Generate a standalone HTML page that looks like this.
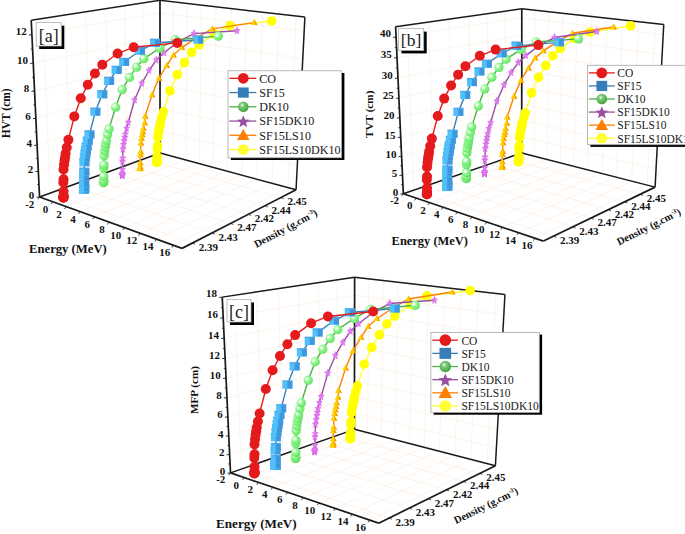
<!DOCTYPE html>
<html><head><meta charset="utf-8"><style>
html,body{margin:0;padding:0;background:#fff;}
svg{display:block;}
.b{font-family:"Liberation Serif",serif;font-weight:bold;fill:#111;}
.s{font-family:"Liberation Serif",serif;}
</style></head><body>
<svg width="685" height="534" viewBox="0 0 685 534">
<defs>
<radialGradient id="gs" cx="0.36" cy="0.36" r="0.72"><stop offset="0" stop-color="#ffffff"/><stop offset="0.18" stop-color="#e0ffe0"/><stop offset="0.42" stop-color="#8cf58c"/><stop offset="0.8" stop-color="#70ea70"/><stop offset="1" stop-color="#50d250"/></radialGradient>
<radialGradient id="gl" cx="0.4" cy="0.35" r="0.7"><stop offset="0" stop-color="#e8f8e8"/><stop offset="0.3" stop-color="#7cc87a"/><stop offset="0.75" stop-color="#4daf4a"/><stop offset="1" stop-color="#3d9a3a"/></radialGradient>
</defs>
<rect width="685" height="534" fill="#fff"/>
<g><line x1="39.55" y1="197.06" x2="160.08" y2="152.95" stroke="#fdf0e6" stroke-width="0.8"/><line x1="160.08" y1="152.95" x2="159.95" y2="0.31" stroke="#fdf0e6" stroke-width="0.8"/><line x1="52.61" y1="201.77" x2="172.82" y2="156.4" stroke="#fdf0e6" stroke-width="0.8"/><line x1="172.82" y1="156.4" x2="173.43" y2="1.87" stroke="#fdf0e6" stroke-width="0.8"/><line x1="66.08" y1="206.62" x2="185.89" y2="159.95" stroke="#fdf0e6" stroke-width="0.8"/><line x1="185.89" y1="159.95" x2="187.29" y2="3.48" stroke="#fdf0e6" stroke-width="0.8"/><line x1="79.97" y1="211.62" x2="199.31" y2="163.58" stroke="#fdf0e6" stroke-width="0.8"/><line x1="199.31" y1="163.58" x2="201.53" y2="5.12" stroke="#fdf0e6" stroke-width="0.8"/><line x1="94.3" y1="216.78" x2="213.09" y2="167.32" stroke="#fdf0e6" stroke-width="0.8"/><line x1="213.09" y1="167.32" x2="216.18" y2="6.82" stroke="#fdf0e6" stroke-width="0.8"/><line x1="109.09" y1="222.11" x2="227.25" y2="171.15" stroke="#fdf0e6" stroke-width="0.8"/><line x1="227.25" y1="171.15" x2="231.26" y2="8.56" stroke="#fdf0e6" stroke-width="0.8"/><line x1="124.37" y1="227.61" x2="241.8" y2="175.1" stroke="#fdf0e6" stroke-width="0.8"/><line x1="241.8" y1="175.1" x2="246.78" y2="10.36" stroke="#fdf0e6" stroke-width="0.8"/><line x1="140.16" y1="233.29" x2="256.76" y2="179.15" stroke="#fdf0e6" stroke-width="0.8"/><line x1="256.76" y1="179.15" x2="262.77" y2="12.21" stroke="#fdf0e6" stroke-width="0.8"/><line x1="156.49" y1="239.17" x2="272.14" y2="183.32" stroke="#fdf0e6" stroke-width="0.8"/><line x1="272.14" y1="183.32" x2="279.24" y2="14.12" stroke="#fdf0e6" stroke-width="0.8"/><line x1="173.37" y1="245.25" x2="287.97" y2="187.61" stroke="#fdf0e6" stroke-width="0.8"/><line x1="287.97" y1="187.61" x2="296.22" y2="16.08" stroke="#fdf0e6" stroke-width="0.8"/><line x1="50.23" y1="193.15" x2="192.36" y2="243.07" stroke="#fdf0e6" stroke-width="0.8"/><line x1="50.23" y1="193.15" x2="42.73" y2="18.45" stroke="#fdf0e6" stroke-width="0.8"/><line x1="70.8" y1="185.62" x2="212.11" y2="232.92" stroke="#fdf0e6" stroke-width="0.8"/><line x1="70.8" y1="185.62" x2="64.84" y2="15.03" stroke="#fdf0e6" stroke-width="0.8"/><line x1="90.38" y1="178.46" x2="230.77" y2="223.34" stroke="#fdf0e6" stroke-width="0.8"/><line x1="90.38" y1="178.46" x2="85.81" y2="11.78" stroke="#fdf0e6" stroke-width="0.8"/><line x1="109.03" y1="171.63" x2="248.42" y2="214.28" stroke="#fdf0e6" stroke-width="0.8"/><line x1="109.03" y1="171.63" x2="105.74" y2="8.7" stroke="#fdf0e6" stroke-width="0.8"/><line x1="126.83" y1="165.12" x2="265.14" y2="205.69" stroke="#fdf0e6" stroke-width="0.8"/><line x1="126.83" y1="165.12" x2="124.69" y2="5.77" stroke="#fdf0e6" stroke-width="0.8"/><line x1="143.83" y1="158.9" x2="281" y2="197.54" stroke="#fdf0e6" stroke-width="0.8"/><line x1="143.83" y1="158.9" x2="142.74" y2="2.98" stroke="#fdf0e6" stroke-width="0.8"/><line x1="39.55" y1="197.06" x2="160.08" y2="152.95" stroke="#fdf0e6" stroke-width="0.8"/><line x1="160.08" y1="152.95" x2="296.06" y2="189.81" stroke="#fdf0e6" stroke-width="0.8"/><line x1="38.33" y1="171.33" x2="160.06" y2="130.56" stroke="#fdf0e6" stroke-width="0.8"/><line x1="160.06" y1="130.56" x2="297.35" y2="164.64" stroke="#fdf0e6" stroke-width="0.8"/><line x1="37.1" y1="145.09" x2="160.04" y2="107.79" stroke="#fdf0e6" stroke-width="0.8"/><line x1="160.04" y1="107.79" x2="298.66" y2="138.99" stroke="#fdf0e6" stroke-width="0.8"/><line x1="35.84" y1="118.32" x2="160.02" y2="84.62" stroke="#fdf0e6" stroke-width="0.8"/><line x1="160.02" y1="84.62" x2="300" y2="112.83" stroke="#fdf0e6" stroke-width="0.8"/><line x1="34.55" y1="91.01" x2="160" y2="61.06" stroke="#fdf0e6" stroke-width="0.8"/><line x1="160" y1="61.06" x2="301.37" y2="86.15" stroke="#fdf0e6" stroke-width="0.8"/><line x1="33.24" y1="63.13" x2="159.98" y2="37.08" stroke="#fdf0e6" stroke-width="0.8"/><line x1="159.98" y1="37.08" x2="302.76" y2="58.94" stroke="#fdf0e6" stroke-width="0.8"/><line x1="31.9" y1="34.68" x2="159.96" y2="12.68" stroke="#fdf0e6" stroke-width="0.8"/><line x1="159.96" y1="12.68" x2="304.18" y2="31.18" stroke="#fdf0e6" stroke-width="0.8"/></g>
<line x1="160.08" y1="152.95" x2="159.95" y2="0.31" stroke="#1a1a1a" stroke-width="1.7"/><line x1="39.55" y1="197.06" x2="160.08" y2="152.95" stroke="#1a1a1a" stroke-width="1.5"/><line x1="160.08" y1="152.95" x2="296.06" y2="189.81" stroke="#1a1a1a" stroke-width="1.5"/><line x1="31.22" y1="20.23" x2="159.95" y2="0.31" stroke="#1a1a1a" stroke-width="1.5"/><line x1="159.95" y1="0.31" x2="304.9" y2="17.09" stroke="#1a1a1a" stroke-width="1.5"/><line x1="296.06" y1="189.81" x2="304.9" y2="17.09" stroke="#1a1a1a" stroke-width="1.5"/><line x1="39.55" y1="197.06" x2="182.04" y2="248.37" stroke="#1a1a1a" stroke-width="1.7"/><line x1="182.04" y1="248.37" x2="296.06" y2="189.81" stroke="#1a1a1a" stroke-width="1.7"/><line x1="39.55" y1="197.06" x2="31.22" y2="20.23" stroke="#1a1a1a" stroke-width="1.7"/>
<line x1="39.55" y1="197.06" x2="36.55" y2="197.36" stroke="#1a1a1a" stroke-width="0.9"/><line x1="38.33" y1="171.33" x2="35.33" y2="171.63" stroke="#1a1a1a" stroke-width="0.9"/><line x1="37.1" y1="145.09" x2="34.1" y2="145.39" stroke="#1a1a1a" stroke-width="0.9"/><line x1="35.84" y1="118.32" x2="32.84" y2="118.62" stroke="#1a1a1a" stroke-width="0.9"/><line x1="34.55" y1="91.01" x2="31.55" y2="91.31" stroke="#1a1a1a" stroke-width="0.9"/><line x1="33.24" y1="63.13" x2="30.24" y2="63.43" stroke="#1a1a1a" stroke-width="0.9"/><line x1="31.9" y1="34.68" x2="28.9" y2="34.98" stroke="#1a1a1a" stroke-width="0.9"/><line x1="38.94" y1="184.26" x2="37.14" y2="184.46" stroke="#1a1a1a" stroke-width="0.8"/><line x1="37.72" y1="158.28" x2="35.92" y2="158.48" stroke="#1a1a1a" stroke-width="0.8"/><line x1="36.47" y1="131.77" x2="34.67" y2="131.97" stroke="#1a1a1a" stroke-width="0.8"/><line x1="35.2" y1="104.73" x2="33.4" y2="104.93" stroke="#1a1a1a" stroke-width="0.8"/><line x1="33.9" y1="77.14" x2="32.1" y2="77.34" stroke="#1a1a1a" stroke-width="0.8"/><line x1="32.57" y1="48.98" x2="30.77" y2="49.18" stroke="#1a1a1a" stroke-width="0.8"/><line x1="39.55" y1="197.06" x2="37.95" y2="199.46" stroke="#1a1a1a" stroke-width="0.8"/><line x1="52.61" y1="201.77" x2="51.01" y2="204.17" stroke="#1a1a1a" stroke-width="0.8"/><line x1="66.08" y1="206.62" x2="64.48" y2="209.02" stroke="#1a1a1a" stroke-width="0.8"/><line x1="79.97" y1="211.62" x2="78.37" y2="214.02" stroke="#1a1a1a" stroke-width="0.8"/><line x1="94.3" y1="216.78" x2="92.7" y2="219.18" stroke="#1a1a1a" stroke-width="0.8"/><line x1="109.09" y1="222.11" x2="107.49" y2="224.51" stroke="#1a1a1a" stroke-width="0.8"/><line x1="124.37" y1="227.61" x2="122.77" y2="230.01" stroke="#1a1a1a" stroke-width="0.8"/><line x1="140.16" y1="233.29" x2="138.56" y2="235.69" stroke="#1a1a1a" stroke-width="0.8"/><line x1="156.49" y1="239.17" x2="154.89" y2="241.57" stroke="#1a1a1a" stroke-width="0.8"/><line x1="173.37" y1="245.25" x2="171.77" y2="247.65" stroke="#1a1a1a" stroke-width="0.8"/><line x1="192.36" y1="243.07" x2="194.96" y2="244.27" stroke="#1a1a1a" stroke-width="0.8"/><line x1="212.11" y1="232.92" x2="214.71" y2="234.12" stroke="#1a1a1a" stroke-width="0.8"/><line x1="230.77" y1="223.34" x2="233.37" y2="224.54" stroke="#1a1a1a" stroke-width="0.8"/><line x1="248.42" y1="214.28" x2="251.02" y2="215.48" stroke="#1a1a1a" stroke-width="0.8"/><line x1="265.14" y1="205.69" x2="267.74" y2="206.89" stroke="#1a1a1a" stroke-width="0.8"/><line x1="281" y1="197.54" x2="283.6" y2="198.74" stroke="#1a1a1a" stroke-width="0.8"/>
<path d="M156.74 162.42 L156.77 162.31 L156.84 162.22 L156.9 162.01 L156.96 161.68 L157.03 160.32 L157.15 156.68 L157.27 148.86 L157.59 145.81 L157.9 137.15 L158.55 132.86 L159.21 129.15 L159.86 126.12 L160.53 122.73 L161.85 117.34 L163.5 111.8 L170 90.8 L177.2 74.7 L184.5 62.6 L191.7 52.3 L199.2 44.8 L214.17 33.9 L230 25.6 L271.7 21" fill="none" stroke="#ffff33" stroke-width="1.4"/>
<circle cx="156.74" cy="162.42" r="4.8" fill="#ffff00"/><circle cx="156.77" cy="162.31" r="4.8" fill="#ffff00"/><circle cx="156.84" cy="162.22" r="4.8" fill="#ffff00"/><circle cx="156.9" cy="162.01" r="4.8" fill="#ffff00"/><circle cx="156.96" cy="161.68" r="4.8" fill="#ffff00"/><circle cx="157.03" cy="160.32" r="4.8" fill="#ffff00"/><circle cx="157.15" cy="156.68" r="4.8" fill="#ffff00"/><circle cx="157.27" cy="148.86" r="4.8" fill="#ffff00"/><circle cx="157.59" cy="145.81" r="4.8" fill="#ffff00"/><circle cx="157.9" cy="137.15" r="4.8" fill="#ffff00"/><circle cx="158.55" cy="132.86" r="4.8" fill="#ffff00"/><circle cx="159.21" cy="129.15" r="4.8" fill="#ffff00"/><circle cx="159.86" cy="126.12" r="4.8" fill="#ffff00"/><circle cx="160.53" cy="122.73" r="4.8" fill="#ffff00"/><circle cx="161.85" cy="117.34" r="4.8" fill="#ffff00"/><circle cx="163.5" cy="111.8" r="4.8" fill="#ffff00"/><circle cx="170" cy="90.8" r="4.8" fill="#ffff00"/><circle cx="177.2" cy="74.7" r="4.8" fill="#ffff00"/><circle cx="184.5" cy="62.6" r="4.8" fill="#ffff00"/><circle cx="191.7" cy="52.3" r="4.8" fill="#ffff00"/><circle cx="199.2" cy="44.8" r="4.8" fill="#ffff00"/><circle cx="214.17" cy="33.9" r="4.8" fill="#ffff00"/><circle cx="230" cy="25.6" r="4.8" fill="#ffff00"/><circle cx="271.7" cy="21" r="4.8" fill="#ffff00"/>
<path d="M139.81 168.81 L139.84 168.7 L139.91 168.6 L139.97 168.39 L140.03 168.06 L140.08 166.67 L140.18 162.95 L140.25 154.96 L140.55 151.86 L140.81 143.02 L141.43 138.64 L142.07 134.85 L142.71 131.76 L143.35 128.3 L144.65 122.8 L145.1 116.4 L152 94.8 L158.9 78.4 L166.7 65.5 L173.4 55.1 L181.8 47.6 L196.76 37.69 L212.2 28.9 L254.1 22.6" fill="none" stroke="#ff7f00" stroke-width="1.4"/>
<polygon points="139.81,165.21 143.21,171.21 136.41,171.21" fill="#ffd000"/><polygon points="139.81,165.21 143.21,171.21 141.01,171.21" fill="#f59a00"/><polygon points="139.84,165.1 143.24,171.1 136.44,171.1" fill="#ffd000"/><polygon points="139.84,165.1 143.24,171.1 141.04,171.1" fill="#f59a00"/><polygon points="139.91,165 143.31,171 136.51,171" fill="#ffd000"/><polygon points="139.91,165 143.31,171 141.11,171" fill="#f59a00"/><polygon points="139.97,164.79 143.37,170.79 136.57,170.79" fill="#ffd000"/><polygon points="139.97,164.79 143.37,170.79 141.17,170.79" fill="#f59a00"/><polygon points="140.03,164.46 143.43,170.46 136.63,170.46" fill="#ffd000"/><polygon points="140.03,164.46 143.43,170.46 141.23,170.46" fill="#f59a00"/><polygon points="140.08,163.07 143.48,169.07 136.68,169.07" fill="#ffd000"/><polygon points="140.08,163.07 143.48,169.07 141.28,169.07" fill="#f59a00"/><polygon points="140.18,159.35 143.58,165.35 136.78,165.35" fill="#ffd000"/><polygon points="140.18,159.35 143.58,165.35 141.38,165.35" fill="#f59a00"/><polygon points="140.25,151.36 143.65,157.36 136.85,157.36" fill="#ffd000"/><polygon points="140.25,151.36 143.65,157.36 141.45,157.36" fill="#f59a00"/><polygon points="140.55,148.26 143.95,154.26 137.15,154.26" fill="#ffd000"/><polygon points="140.55,148.26 143.95,154.26 141.75,154.26" fill="#f59a00"/><polygon points="140.81,139.42 144.21,145.42 137.41,145.42" fill="#ffd000"/><polygon points="140.81,139.42 144.21,145.42 142.01,145.42" fill="#f59a00"/><polygon points="141.43,135.04 144.83,141.04 138.03,141.04" fill="#ffd000"/><polygon points="141.43,135.04 144.83,141.04 142.63,141.04" fill="#f59a00"/><polygon points="142.07,131.25 145.47,137.25 138.67,137.25" fill="#ffd000"/><polygon points="142.07,131.25 145.47,137.25 143.27,137.25" fill="#f59a00"/><polygon points="142.71,128.16 146.11,134.16 139.31,134.16" fill="#ffd000"/><polygon points="142.71,128.16 146.11,134.16 143.91,134.16" fill="#f59a00"/><polygon points="143.35,124.7 146.75,130.7 139.95,130.7" fill="#ffd000"/><polygon points="143.35,124.7 146.75,130.7 144.55,130.7" fill="#f59a00"/><polygon points="144.65,119.2 148.05,125.2 141.25,125.2" fill="#ffd000"/><polygon points="144.65,119.2 148.05,125.2 145.85,125.2" fill="#f59a00"/><polygon points="145.1,112.8 148.5,118.8 141.7,118.8" fill="#ffd000"/><polygon points="145.1,112.8 148.5,118.8 146.3,118.8" fill="#f59a00"/><polygon points="152,91.2 155.4,97.2 148.6,97.2" fill="#ffd000"/><polygon points="152,91.2 155.4,97.2 153.2,97.2" fill="#f59a00"/><polygon points="158.9,74.8 162.3,80.8 155.5,80.8" fill="#ffd000"/><polygon points="158.9,74.8 162.3,80.8 160.1,80.8" fill="#f59a00"/><polygon points="166.7,61.9 170.1,67.9 163.3,67.9" fill="#ffd000"/><polygon points="166.7,61.9 170.1,67.9 167.9,67.9" fill="#f59a00"/><polygon points="173.4,51.5 176.8,57.5 170,57.5" fill="#ffd000"/><polygon points="173.4,51.5 176.8,57.5 174.6,57.5" fill="#f59a00"/><polygon points="181.8,44 185.2,50 178.4,50" fill="#ffd000"/><polygon points="181.8,44 185.2,50 183,50" fill="#f59a00"/><polygon points="196.76,34.09 200.16,40.09 193.36,40.09" fill="#ffd000"/><polygon points="196.76,34.09 200.16,40.09 197.96,40.09" fill="#f59a00"/><polygon points="212.2,25.3 215.6,31.3 208.8,31.3" fill="#ffd000"/><polygon points="212.2,25.3 215.6,31.3 213.4,31.3" fill="#f59a00"/><polygon points="254.1,19 257.5,25 250.7,25" fill="#ffd000"/><polygon points="254.1,19 257.5,25 255.3,25" fill="#f59a00"/>
<path d="M122.07 175.5 L122.1 175.39 L122.17 175.29 L122.23 175.07 L122.29 174.73 L122.33 173.32 L122.4 169.52 L122.41 161.37 L122.69 158.19 L122.89 149.16 L123.49 144.7 L124.1 140.82 L124.72 137.68 L125.34 134.14 L126.6 128.53 L128.3 122.5 L134.6 100 L141.8 83.3 L149 70.5 L156.3 60 L164 52.8 L178.42 41.68 L194 33.6 L237 30.8" fill="none" stroke="#984ea3" stroke-width="1.4"/>
<polygon points="122.07,171.5 122.92,174.03 125.11,174.26 123.45,176.06 123.95,178.74 122.07,177.31 120.19,178.74 120.69,176.06 119.03,174.26 121.22,174.03" fill="#e27cf2" stroke="#d060e0" stroke-width="0.5"/><polygon points="122.1,171.39 122.95,173.92 125.14,174.16 123.48,175.95 123.98,178.63 122.1,177.2 120.22,178.63 120.72,175.95 119.06,174.16 121.25,173.92" fill="#e27cf2" stroke="#d060e0" stroke-width="0.5"/><polygon points="122.17,171.29 123.02,173.83 125.21,174.06 123.54,175.85 124.05,178.53 122.17,177.1 120.28,178.53 120.79,175.85 119.12,174.06 121.31,173.83" fill="#e27cf2" stroke="#d060e0" stroke-width="0.5"/><polygon points="122.23,171.07 123.08,173.61 125.27,173.84 123.61,175.63 124.11,178.31 122.23,176.89 120.35,178.31 120.85,175.63 119.18,173.84 121.37,173.61" fill="#e27cf2" stroke="#d060e0" stroke-width="0.5"/><polygon points="122.29,170.73 123.14,173.27 125.33,173.5 123.67,175.29 124.17,177.97 122.29,176.55 120.41,177.97 120.91,175.29 119.24,173.5 121.44,173.27" fill="#e27cf2" stroke="#d060e0" stroke-width="0.5"/><polygon points="122.33,169.32 123.18,171.85 125.37,172.08 123.71,173.88 124.21,176.55 122.33,175.13 120.45,176.55 120.95,173.88 119.29,172.08 121.48,171.85" fill="#e27cf2" stroke="#d060e0" stroke-width="0.5"/><polygon points="122.4,165.52 123.26,168.05 125.45,168.28 123.78,170.08 124.29,172.76 122.4,171.33 120.52,172.76 121.03,170.08 119.36,168.28 121.55,168.05" fill="#e27cf2" stroke="#d060e0" stroke-width="0.5"/><polygon points="122.41,157.37 123.26,159.9 125.46,160.13 123.79,161.93 124.29,164.6 122.41,163.18 120.53,164.6 121.03,161.93 119.37,160.13 121.56,159.9" fill="#e27cf2" stroke="#d060e0" stroke-width="0.5"/><polygon points="122.69,154.19 123.55,156.73 125.74,156.96 124.07,158.75 124.57,161.43 122.69,160.01 120.81,161.43 121.31,158.75 119.65,156.96 121.84,156.73" fill="#e27cf2" stroke="#d060e0" stroke-width="0.5"/><polygon points="122.89,145.16 123.74,147.7 125.93,147.93 124.27,149.72 124.77,152.4 122.89,150.98 121.01,152.4 121.51,149.72 119.85,147.93 122.04,147.7" fill="#e27cf2" stroke="#d060e0" stroke-width="0.5"/><polygon points="123.49,140.7 124.34,143.23 126.53,143.46 124.87,145.26 125.37,147.93 123.49,146.51 121.61,147.93 122.11,145.26 120.44,143.46 122.63,143.23" fill="#e27cf2" stroke="#d060e0" stroke-width="0.5"/><polygon points="124.1,136.82 124.95,139.36 127.14,139.59 125.47,141.38 125.98,144.06 124.1,142.64 122.21,144.06 122.72,141.38 121.05,139.59 123.24,139.36" fill="#e27cf2" stroke="#d060e0" stroke-width="0.5"/><polygon points="124.72,133.68 125.57,136.21 127.76,136.44 126.1,138.24 126.6,140.91 124.72,139.49 122.84,140.91 123.34,138.24 121.67,136.44 123.86,136.21" fill="#e27cf2" stroke="#d060e0" stroke-width="0.5"/><polygon points="125.34,130.14 126.19,132.68 128.38,132.91 126.71,134.7 127.22,137.38 125.34,135.96 123.45,137.38 123.96,134.7 122.29,132.91 124.48,132.68" fill="#e27cf2" stroke="#d060e0" stroke-width="0.5"/><polygon points="126.6,124.53 127.45,127.06 129.65,127.29 127.98,129.09 128.48,131.76 126.6,130.34 124.72,131.76 125.22,129.09 123.56,127.29 125.75,127.06" fill="#e27cf2" stroke="#d060e0" stroke-width="0.5"/><polygon points="128.3,118.5 129.15,121.03 131.34,121.26 129.68,123.06 130.18,125.74 128.3,124.31 126.42,125.74 126.92,123.06 125.26,121.26 127.45,121.03" fill="#e27cf2" stroke="#d060e0" stroke-width="0.5"/><polygon points="134.6,96 135.45,98.53 137.64,98.76 135.98,100.56 136.48,103.24 134.6,101.81 132.72,103.24 133.22,100.56 131.56,98.76 133.75,98.53" fill="#e27cf2" stroke="#d060e0" stroke-width="0.5"/><polygon points="141.8,79.3 142.65,81.83 144.84,82.06 143.18,83.86 143.68,86.54 141.8,85.11 139.92,86.54 140.42,83.86 138.76,82.06 140.95,81.83" fill="#e27cf2" stroke="#d060e0" stroke-width="0.5"/><polygon points="149,66.5 149.85,69.03 152.04,69.26 150.38,71.06 150.88,73.74 149,72.31 147.12,73.74 147.62,71.06 145.96,69.26 148.15,69.03" fill="#e27cf2" stroke="#d060e0" stroke-width="0.5"/><polygon points="156.3,56 157.15,58.53 159.34,58.76 157.68,60.56 158.18,63.24 156.3,61.81 154.42,63.24 154.92,60.56 153.26,58.76 155.45,58.53" fill="#e27cf2" stroke="#d060e0" stroke-width="0.5"/><polygon points="164,48.8 164.85,51.33 167.04,51.56 165.38,53.36 165.88,56.04 164,54.61 162.12,56.04 162.62,53.36 160.96,51.56 163.15,51.33" fill="#e27cf2" stroke="#d060e0" stroke-width="0.5"/><polygon points="178.42,37.68 179.27,40.21 181.47,40.44 179.8,42.24 180.3,44.92 178.42,43.49 176.54,44.92 177.04,42.24 175.38,40.44 177.57,40.21" fill="#e27cf2" stroke="#d060e0" stroke-width="0.5"/><polygon points="194,29.6 194.85,32.13 197.04,32.36 195.38,34.16 195.88,36.84 194,35.41 192.12,36.84 192.62,34.16 190.96,32.36 193.15,32.13" fill="#e27cf2" stroke="#d060e0" stroke-width="0.5"/><polygon points="237,26.8 237.85,29.33 240.04,29.56 238.38,31.36 238.88,34.04 237,32.61 235.12,34.04 235.62,31.36 233.96,29.56 236.15,29.33" fill="#e27cf2" stroke="#d060e0" stroke-width="0.5"/>
<path d="M103.46 182.52 L103.49 182.41 L103.56 182.31 L103.62 182.09 L103.68 181.74 L103.71 180.29 L103.75 176.41 L103.7 168.08 L103.96 164.84 L104.08 155.61 L104.65 151.05 L105.23 147.1 L105.83 143.88 L106.42 140.28 L107.65 134.54 L109 128.9 L115.6 107.2 L122.2 89.5 L129.4 77.4 L136.6 67.2 L143.8 58.7 L159.8 48.1 L175.1 39.7 L218.3 36.1" fill="none" stroke="#4daf4a" stroke-width="1.4"/>
<circle cx="103.46" cy="182.52" r="4.65" fill="url(#gs)"/><circle cx="103.49" cy="182.41" r="4.65" fill="url(#gs)"/><circle cx="103.56" cy="182.31" r="4.65" fill="url(#gs)"/><circle cx="103.62" cy="182.09" r="4.65" fill="url(#gs)"/><circle cx="103.68" cy="181.74" r="4.65" fill="url(#gs)"/><circle cx="103.71" cy="180.29" r="4.65" fill="url(#gs)"/><circle cx="103.75" cy="176.41" r="4.65" fill="url(#gs)"/><circle cx="103.7" cy="168.08" r="4.65" fill="url(#gs)"/><circle cx="103.96" cy="164.84" r="4.65" fill="url(#gs)"/><circle cx="104.08" cy="155.61" r="4.65" fill="url(#gs)"/><circle cx="104.65" cy="151.05" r="4.65" fill="url(#gs)"/><circle cx="105.23" cy="147.1" r="4.65" fill="url(#gs)"/><circle cx="105.83" cy="143.88" r="4.65" fill="url(#gs)"/><circle cx="106.42" cy="140.28" r="4.65" fill="url(#gs)"/><circle cx="107.65" cy="134.54" r="4.65" fill="url(#gs)"/><circle cx="109" cy="128.9" r="4.65" fill="url(#gs)"/><circle cx="115.6" cy="107.2" r="4.65" fill="url(#gs)"/><circle cx="122.2" cy="89.5" r="4.65" fill="url(#gs)"/><circle cx="129.4" cy="77.4" r="4.65" fill="url(#gs)"/><circle cx="136.6" cy="67.2" r="4.65" fill="url(#gs)"/><circle cx="143.8" cy="58.7" r="4.65" fill="url(#gs)"/><circle cx="159.8" cy="48.1" r="4.65" fill="url(#gs)"/><circle cx="175.1" cy="39.7" r="4.65" fill="url(#gs)"/><circle cx="218.3" cy="36.1" r="4.65" fill="url(#gs)"/>
<path d="M83.92 189.89 L83.95 189.78 L84.02 189.68 L84.07 189.45 L84.13 189.1 L84.15 187.62 L84.16 183.65 L84.04 175.14 L84.27 171.83 L84.33 162.39 L84.85 157.73 L85.4 153.69 L85.98 150.41 L86.54 146.72 L87.72 140.87 L89.4 134.6 L95.3 111.8 L102.2 94.4 L109.1 81 L116.6 70 L124.1 62 L139.9 50.8 L155 43 L198.2 39.7" fill="none" stroke="#377eb8" stroke-width="1.4"/>
<path d="M78.92 186.19h10v7.7h-10z" fill="#4fc0fa"/><path d="M83.92 186.09h5v7.6h-5z" fill="#3e96dd"/><path d="M78.92 185.59h10v1.3h-10z" fill="#4aa6e6"/><path d="M78.95 186.08h10v7.7h-10z" fill="#4fc0fa"/><path d="M83.95 185.98h5v7.6h-5z" fill="#3e96dd"/><path d="M78.95 185.48h10v1.3h-10z" fill="#4aa6e6"/><path d="M79.02 185.98h10v7.7h-10z" fill="#4fc0fa"/><path d="M84.02 185.88h5v7.6h-5z" fill="#3e96dd"/><path d="M79.02 185.38h10v1.3h-10z" fill="#4aa6e6"/><path d="M79.07 185.75h10v7.7h-10z" fill="#4fc0fa"/><path d="M84.07 185.65h5v7.6h-5z" fill="#3e96dd"/><path d="M79.07 185.15h10v1.3h-10z" fill="#4aa6e6"/><path d="M79.13 185.4h10v7.7h-10z" fill="#4fc0fa"/><path d="M84.13 185.3h5v7.6h-5z" fill="#3e96dd"/><path d="M79.13 184.8h10v1.3h-10z" fill="#4aa6e6"/><path d="M79.15 183.92h10v7.7h-10z" fill="#4fc0fa"/><path d="M84.15 183.82h5v7.6h-5z" fill="#3e96dd"/><path d="M79.15 183.32h10v1.3h-10z" fill="#4aa6e6"/><path d="M79.16 179.95h10v7.7h-10z" fill="#4fc0fa"/><path d="M84.16 179.85h5v7.6h-5z" fill="#3e96dd"/><path d="M79.16 179.35h10v1.3h-10z" fill="#4aa6e6"/><path d="M79.04 171.44h10v7.7h-10z" fill="#4fc0fa"/><path d="M84.04 171.34h5v7.6h-5z" fill="#3e96dd"/><path d="M79.04 170.84h10v1.3h-10z" fill="#4aa6e6"/><path d="M79.27 168.13h10v7.7h-10z" fill="#4fc0fa"/><path d="M84.27 168.03h5v7.6h-5z" fill="#3e96dd"/><path d="M79.27 167.53h10v1.3h-10z" fill="#4aa6e6"/><path d="M79.33 158.69h10v7.7h-10z" fill="#4fc0fa"/><path d="M84.33 158.59h5v7.6h-5z" fill="#3e96dd"/><path d="M79.33 158.09h10v1.3h-10z" fill="#4aa6e6"/><path d="M79.85 154.03h10v7.7h-10z" fill="#4fc0fa"/><path d="M84.85 153.93h5v7.6h-5z" fill="#3e96dd"/><path d="M79.85 153.43h10v1.3h-10z" fill="#4aa6e6"/><path d="M80.4 149.99h10v7.7h-10z" fill="#4fc0fa"/><path d="M85.4 149.89h5v7.6h-5z" fill="#3e96dd"/><path d="M80.4 149.39h10v1.3h-10z" fill="#4aa6e6"/><path d="M80.98 146.71h10v7.7h-10z" fill="#4fc0fa"/><path d="M85.98 146.61h5v7.6h-5z" fill="#3e96dd"/><path d="M80.98 146.11h10v1.3h-10z" fill="#4aa6e6"/><path d="M81.54 143.02h10v7.7h-10z" fill="#4fc0fa"/><path d="M86.54 142.92h5v7.6h-5z" fill="#3e96dd"/><path d="M81.54 142.42h10v1.3h-10z" fill="#4aa6e6"/><path d="M82.72 137.17h10v7.7h-10z" fill="#4fc0fa"/><path d="M87.72 137.07h5v7.6h-5z" fill="#3e96dd"/><path d="M82.72 136.57h10v1.3h-10z" fill="#4aa6e6"/><path d="M84.4 130.9h10v7.7h-10z" fill="#4fc0fa"/><path d="M89.4 130.8h5v7.6h-5z" fill="#3e96dd"/><path d="M84.4 130.3h10v1.3h-10z" fill="#4aa6e6"/><path d="M90.3 108.1h10v7.7h-10z" fill="#4fc0fa"/><path d="M95.3 108h5v7.6h-5z" fill="#3e96dd"/><path d="M90.3 107.5h10v1.3h-10z" fill="#4aa6e6"/><path d="M97.2 90.7h10v7.7h-10z" fill="#4fc0fa"/><path d="M102.2 90.6h5v7.6h-5z" fill="#3e96dd"/><path d="M97.2 90.1h10v1.3h-10z" fill="#4aa6e6"/><path d="M104.1 77.3h10v7.7h-10z" fill="#4fc0fa"/><path d="M109.1 77.2h5v7.6h-5z" fill="#3e96dd"/><path d="M104.1 76.7h10v1.3h-10z" fill="#4aa6e6"/><path d="M111.6 66.3h10v7.7h-10z" fill="#4fc0fa"/><path d="M116.6 66.2h5v7.6h-5z" fill="#3e96dd"/><path d="M111.6 65.7h10v1.3h-10z" fill="#4aa6e6"/><path d="M119.1 58.3h10v7.7h-10z" fill="#4fc0fa"/><path d="M124.1 58.2h5v7.6h-5z" fill="#3e96dd"/><path d="M119.1 57.7h10v1.3h-10z" fill="#4aa6e6"/><path d="M134.9 47.1h10v7.7h-10z" fill="#4fc0fa"/><path d="M139.9 47h5v7.6h-5z" fill="#3e96dd"/><path d="M134.9 46.5h10v1.3h-10z" fill="#4aa6e6"/><path d="M150 39.3h10v7.7h-10z" fill="#4fc0fa"/><path d="M155 39.2h5v7.6h-5z" fill="#3e96dd"/><path d="M150 38.7h10v1.3h-10z" fill="#4aa6e6"/><path d="M193.2 36h10v7.7h-10z" fill="#4fc0fa"/><path d="M198.2 35.9h5v7.6h-5z" fill="#3e96dd"/><path d="M193.2 35.4h10v1.3h-10z" fill="#4aa6e6"/>
<path d="M63.38 197.65 L63.41 197.53 L63.47 197.43 L63.53 197.19 L63.58 196.83 L63.59 195.32 L63.56 191.27 L63.37 182.56 L63.57 179.17 L63.54 169.52 L64.02 164.76 L64.54 160.63 L65.08 157.28 L65.61 153.51 L66.75 147.53 L68.4 139.8 L74.3 116.4 L80.8 98.3 L87.8 84.7 L94.9 73.5 L102.3 64.8 L117.6 53.5 L133.7 47.2 L177.2 42.9" fill="none" stroke="#e41a1c" stroke-width="1.4"/>
<circle cx="63.38" cy="197.65" r="5" fill="#e41a1c"/><circle cx="63.41" cy="197.53" r="5" fill="#e41a1c"/><circle cx="63.47" cy="197.43" r="5" fill="#e41a1c"/><circle cx="63.53" cy="197.19" r="5" fill="#e41a1c"/><circle cx="63.58" cy="196.83" r="5" fill="#e41a1c"/><circle cx="63.59" cy="195.32" r="5" fill="#e41a1c"/><circle cx="63.56" cy="191.27" r="5" fill="#e41a1c"/><circle cx="63.37" cy="182.56" r="5" fill="#e41a1c"/><circle cx="63.57" cy="179.17" r="5" fill="#e41a1c"/><circle cx="63.54" cy="169.52" r="5" fill="#e41a1c"/><circle cx="64.02" cy="164.76" r="5" fill="#e41a1c"/><circle cx="64.54" cy="160.63" r="5" fill="#e41a1c"/><circle cx="65.08" cy="157.28" r="5" fill="#e41a1c"/><circle cx="65.61" cy="153.51" r="5" fill="#e41a1c"/><circle cx="66.75" cy="147.53" r="5" fill="#e41a1c"/><circle cx="68.4" cy="139.8" r="5" fill="#e41a1c"/><circle cx="74.3" cy="116.4" r="5" fill="#e41a1c"/><circle cx="80.8" cy="98.3" r="5" fill="#e41a1c"/><circle cx="87.8" cy="84.7" r="5" fill="#e41a1c"/><circle cx="94.9" cy="73.5" r="5" fill="#e41a1c"/><circle cx="102.3" cy="64.8" r="5" fill="#e41a1c"/><circle cx="117.6" cy="53.5" r="5" fill="#e41a1c"/><circle cx="133.7" cy="47.2" r="5" fill="#e41a1c"/><circle cx="177.2" cy="42.9" r="5" fill="#e41a1c"/>
<text x="34.35" y="199.26" text-anchor="end" class="b" font-size="11">0</text><text x="33.13" y="173.19" text-anchor="end" class="b" font-size="11">2</text><text x="31.9" y="146.62" text-anchor="end" class="b" font-size="11">4</text><text x="30.64" y="119.51" text-anchor="end" class="b" font-size="11">6</text><text x="29.35" y="91.85" text-anchor="end" class="b" font-size="11">8</text><text x="28.04" y="63.64" text-anchor="end" class="b" font-size="11">10</text><text x="26.7" y="34.85" text-anchor="end" class="b" font-size="11">12</text><text x="34.35" y="207.56" text-anchor="end" class="b" font-size="11">-2</text><text x="45.61" y="212.87" text-anchor="middle" class="b" font-size="11">0</text><text x="59.08" y="217.72" text-anchor="middle" class="b" font-size="11">2</text><text x="72.97" y="222.72" text-anchor="middle" class="b" font-size="11">4</text><text x="87.3" y="227.88" text-anchor="middle" class="b" font-size="11">6</text><text x="102.09" y="233.21" text-anchor="middle" class="b" font-size="11">8</text><text x="115.87" y="238.71" text-anchor="middle" class="b" font-size="11">10</text><text x="131.66" y="244.39" text-anchor="middle" class="b" font-size="11">12</text><text x="147.99" y="250.27" text-anchor="middle" class="b" font-size="11">14</text><text x="164.87" y="256.35" text-anchor="middle" class="b" font-size="11">16</text><text x="208.36" y="250.97" text-anchor="middle" class="b" font-size="11">2.39</text><text x="228.11" y="240.82" text-anchor="middle" class="b" font-size="11">2.43</text><text x="246.77" y="231.24" text-anchor="middle" class="b" font-size="11">2.47</text><text x="264.42" y="222.18" text-anchor="middle" class="b" font-size="11">2.42</text><text x="281.14" y="213.59" text-anchor="middle" class="b" font-size="11">2.44</text><text x="297" y="205.44" text-anchor="middle" class="b" font-size="11">2.45</text>
<text x="10.2" y="113.3" text-anchor="middle" class="b" font-size="11.5" transform="rotate(-90 10.2 113.3)">HVT (cm)</text>
<text x="29" y="253.1" class="b" font-size="12.6" textLength="77.8" lengthAdjust="spacingAndGlyphs">Energy (MeV)</text>
<text x="256.4" y="247.9" class="b" font-size="10.5" transform="rotate(-28 256.4 247.9)">Density (g.cm<tspan font-size="6.3" dy="-4">-3</tspan><tspan dy="4">)</tspan></text>
<rect x="39.2" y="25.6" width="25.1" height="23.4" fill="#000"/>
<rect x="36.2" y="22.6" width="25.1" height="23.4" fill="#fff" stroke="#b0b0b0" stroke-width="0.8"/>
<text x="48.75" y="41.6" text-anchor="middle" class="s" font-size="18" fill="#222">[a]</text>
<rect x="230.8" y="73" width="113.6" height="87" fill="#000"/>
<rect x="228" y="70.8" width="113.6" height="87" fill="#fff" stroke="#a8a8a8" stroke-width="0.8"/>
<line x1="229.3" y1="78.3" x2="256.3" y2="78.3" stroke="#e41a1c" stroke-width="1.3"/>
<circle cx="243.3" cy="78.3" r="5.4" fill="#e41a1c"/>
<text x="259.2" y="82.6" class="s" font-size="12.1" fill="#1a1a1a">CO</text>
<line x1="229.3" y1="92.55" x2="256.3" y2="92.55" stroke="#377eb8" stroke-width="1.3"/>
<rect x="237.9" y="87.45" width="10.8" height="10.2" fill="#377eb8"/>
<text x="259.2" y="96.85" class="s" font-size="12.1" fill="#1a1a1a">SF15</text>
<line x1="229.3" y1="106.8" x2="256.3" y2="106.8" stroke="#4daf4a" stroke-width="1.3"/>
<circle cx="243.3" cy="106.8" r="5.3" fill="url(#gl)"/>
<text x="259.2" y="111.1" class="s" font-size="12.1" fill="#1a1a1a">DK10</text>
<line x1="229.3" y1="121.05" x2="256.3" y2="121.05" stroke="#984ea3" stroke-width="1.3"/>
<polygon points="243.3,115.25 245,119.5 249.58,119.81 246.06,122.75 247.18,127.19 243.3,124.75 239.42,127.19 240.54,122.75 237.02,119.81 241.6,119.5" fill="#984ea3"/>
<text x="259.2" y="125.35" class="s" font-size="12.1" fill="#1a1a1a">SF15DK10</text>
<line x1="229.3" y1="135.3" x2="256.3" y2="135.3" stroke="#ff7f00" stroke-width="1.3"/>
<polygon points="243.3,128.9 249.6,140.1 237,140.1" fill="#ff7f00"/>
<text x="259.2" y="139.6" class="s" font-size="12.1" fill="#1a1a1a">SF15LS10</text>
<line x1="229.3" y1="149.55" x2="256.3" y2="149.55" stroke="#ffff33" stroke-width="1.3"/>
<circle cx="243.3" cy="149.55" r="5.4" fill="#ffff33"/>
<text x="259.2" y="153.85" class="s" font-size="12.1" fill="#1a1a1a">SF15LS10DK10</text>
<g><line x1="403.34" y1="193.71" x2="521.72" y2="152.91" stroke="#fdf0e6" stroke-width="0.8"/><line x1="521.72" y1="152.91" x2="521.8" y2="8.76" stroke="#fdf0e6" stroke-width="0.8"/><line x1="416.24" y1="198.08" x2="534.25" y2="156.13" stroke="#fdf0e6" stroke-width="0.8"/><line x1="534.25" y1="156.13" x2="535.04" y2="10.23" stroke="#fdf0e6" stroke-width="0.8"/><line x1="429.52" y1="202.57" x2="547.1" y2="159.42" stroke="#fdf0e6" stroke-width="0.8"/><line x1="547.1" y1="159.42" x2="548.64" y2="11.74" stroke="#fdf0e6" stroke-width="0.8"/><line x1="443.21" y1="207.2" x2="560.28" y2="162.8" stroke="#fdf0e6" stroke-width="0.8"/><line x1="560.28" y1="162.8" x2="562.62" y2="13.29" stroke="#fdf0e6" stroke-width="0.8"/><line x1="457.33" y1="211.97" x2="573.81" y2="166.27" stroke="#fdf0e6" stroke-width="0.8"/><line x1="573.81" y1="166.27" x2="576.99" y2="14.88" stroke="#fdf0e6" stroke-width="0.8"/><line x1="471.88" y1="216.89" x2="587.71" y2="169.84" stroke="#fdf0e6" stroke-width="0.8"/><line x1="587.71" y1="169.84" x2="591.76" y2="16.52" stroke="#fdf0e6" stroke-width="0.8"/><line x1="486.91" y1="221.97" x2="601.97" y2="173.5" stroke="#fdf0e6" stroke-width="0.8"/><line x1="601.97" y1="173.5" x2="606.95" y2="18.2" stroke="#fdf0e6" stroke-width="0.8"/><line x1="502.42" y1="227.22" x2="616.63" y2="177.25" stroke="#fdf0e6" stroke-width="0.8"/><line x1="616.63" y1="177.25" x2="622.59" y2="19.94" stroke="#fdf0e6" stroke-width="0.8"/><line x1="518.44" y1="232.63" x2="631.69" y2="181.12" stroke="#fdf0e6" stroke-width="0.8"/><line x1="631.69" y1="181.12" x2="638.69" y2="21.72" stroke="#fdf0e6" stroke-width="0.8"/><line x1="535" y1="238.23" x2="647.18" y2="185.09" stroke="#fdf0e6" stroke-width="0.8"/><line x1="647.18" y1="185.09" x2="655.27" y2="23.56" stroke="#fdf0e6" stroke-width="0.8"/><line x1="413.83" y1="190.1" x2="553.59" y2="236.22" stroke="#fdf0e6" stroke-width="0.8"/><line x1="413.83" y1="190.1" x2="406.88" y2="25.04" stroke="#fdf0e6" stroke-width="0.8"/><line x1="434.03" y1="183.14" x2="572.91" y2="226.87" stroke="#fdf0e6" stroke-width="0.8"/><line x1="434.03" y1="183.14" x2="428.55" y2="21.97" stroke="#fdf0e6" stroke-width="0.8"/><line x1="453.26" y1="176.51" x2="591.17" y2="218.04" stroke="#fdf0e6" stroke-width="0.8"/><line x1="453.26" y1="176.51" x2="449.11" y2="19.06" stroke="#fdf0e6" stroke-width="0.8"/><line x1="471.58" y1="170.19" x2="608.45" y2="209.68" stroke="#fdf0e6" stroke-width="0.8"/><line x1="471.58" y1="170.19" x2="468.64" y2="16.29" stroke="#fdf0e6" stroke-width="0.8"/><line x1="489.07" y1="164.17" x2="624.81" y2="201.77" stroke="#fdf0e6" stroke-width="0.8"/><line x1="489.07" y1="164.17" x2="487.22" y2="13.66" stroke="#fdf0e6" stroke-width="0.8"/><line x1="505.76" y1="158.41" x2="640.34" y2="194.26" stroke="#fdf0e6" stroke-width="0.8"/><line x1="505.76" y1="158.41" x2="504.92" y2="11.15" stroke="#fdf0e6" stroke-width="0.8"/><line x1="403.34" y1="193.71" x2="521.72" y2="152.91" stroke="#fdf0e6" stroke-width="0.8"/><line x1="521.72" y1="152.91" x2="655.09" y2="187.12" stroke="#fdf0e6" stroke-width="0.8"/><line x1="402.48" y1="175.14" x2="521.73" y2="136.75" stroke="#fdf0e6" stroke-width="0.8"/><line x1="521.73" y1="136.75" x2="656.06" y2="169.01" stroke="#fdf0e6" stroke-width="0.8"/><line x1="401.61" y1="156.3" x2="521.74" y2="120.39" stroke="#fdf0e6" stroke-width="0.8"/><line x1="521.74" y1="120.39" x2="657.03" y2="150.65" stroke="#fdf0e6" stroke-width="0.8"/><line x1="400.72" y1="137.17" x2="521.75" y2="103.82" stroke="#fdf0e6" stroke-width="0.8"/><line x1="521.75" y1="103.82" x2="658.03" y2="132.01" stroke="#fdf0e6" stroke-width="0.8"/><line x1="399.82" y1="117.75" x2="521.76" y2="87.04" stroke="#fdf0e6" stroke-width="0.8"/><line x1="521.76" y1="87.04" x2="659.03" y2="113.11" stroke="#fdf0e6" stroke-width="0.8"/><line x1="398.91" y1="98.04" x2="521.77" y2="70.04" stroke="#fdf0e6" stroke-width="0.8"/><line x1="521.77" y1="70.04" x2="660.05" y2="93.92" stroke="#fdf0e6" stroke-width="0.8"/><line x1="397.98" y1="78.03" x2="521.77" y2="52.81" stroke="#fdf0e6" stroke-width="0.8"/><line x1="521.77" y1="52.81" x2="661.09" y2="74.46" stroke="#fdf0e6" stroke-width="0.8"/><line x1="397.04" y1="57.71" x2="521.78" y2="35.37" stroke="#fdf0e6" stroke-width="0.8"/><line x1="521.78" y1="35.37" x2="662.14" y2="54.7" stroke="#fdf0e6" stroke-width="0.8"/><line x1="396.09" y1="37.08" x2="521.79" y2="17.69" stroke="#fdf0e6" stroke-width="0.8"/><line x1="521.79" y1="17.69" x2="663.21" y2="34.64" stroke="#fdf0e6" stroke-width="0.8"/></g>
<line x1="521.72" y1="152.91" x2="521.8" y2="8.76" stroke="#1a1a1a" stroke-width="1.7"/><line x1="403.34" y1="193.71" x2="521.72" y2="152.91" stroke="#1a1a1a" stroke-width="1.5"/><line x1="521.72" y1="152.91" x2="655.09" y2="187.12" stroke="#1a1a1a" stroke-width="1.5"/><line x1="395.6" y1="26.64" x2="521.8" y2="8.76" stroke="#1a1a1a" stroke-width="1.5"/><line x1="521.8" y1="8.76" x2="663.75" y2="24.5" stroke="#1a1a1a" stroke-width="1.5"/><line x1="655.09" y1="187.12" x2="663.75" y2="24.5" stroke="#1a1a1a" stroke-width="1.5"/><line x1="403.34" y1="193.71" x2="543.49" y2="241.1" stroke="#1a1a1a" stroke-width="1.7"/><line x1="543.49" y1="241.1" x2="655.09" y2="187.12" stroke="#1a1a1a" stroke-width="1.7"/><line x1="403.34" y1="193.71" x2="395.6" y2="26.64" stroke="#1a1a1a" stroke-width="1.7"/>
<line x1="403.34" y1="193.71" x2="400.34" y2="194.01" stroke="#1a1a1a" stroke-width="0.9"/><line x1="402.48" y1="175.14" x2="399.48" y2="175.44" stroke="#1a1a1a" stroke-width="0.9"/><line x1="401.61" y1="156.3" x2="398.61" y2="156.6" stroke="#1a1a1a" stroke-width="0.9"/><line x1="400.72" y1="137.17" x2="397.72" y2="137.47" stroke="#1a1a1a" stroke-width="0.9"/><line x1="399.82" y1="117.75" x2="396.82" y2="118.05" stroke="#1a1a1a" stroke-width="0.9"/><line x1="398.91" y1="98.04" x2="395.91" y2="98.34" stroke="#1a1a1a" stroke-width="0.9"/><line x1="397.98" y1="78.03" x2="394.98" y2="78.33" stroke="#1a1a1a" stroke-width="0.9"/><line x1="397.04" y1="57.71" x2="394.04" y2="58.01" stroke="#1a1a1a" stroke-width="0.9"/><line x1="396.09" y1="37.08" x2="393.09" y2="37.38" stroke="#1a1a1a" stroke-width="0.9"/><line x1="402.91" y1="184.46" x2="401.11" y2="184.66" stroke="#1a1a1a" stroke-width="0.8"/><line x1="402.05" y1="165.75" x2="400.25" y2="165.95" stroke="#1a1a1a" stroke-width="0.8"/><line x1="401.17" y1="146.77" x2="399.37" y2="146.97" stroke="#1a1a1a" stroke-width="0.8"/><line x1="400.27" y1="127.5" x2="398.47" y2="127.7" stroke="#1a1a1a" stroke-width="0.8"/><line x1="399.37" y1="107.93" x2="397.57" y2="108.13" stroke="#1a1a1a" stroke-width="0.8"/><line x1="398.45" y1="88.08" x2="396.65" y2="88.28" stroke="#1a1a1a" stroke-width="0.8"/><line x1="397.51" y1="67.91" x2="395.71" y2="68.11" stroke="#1a1a1a" stroke-width="0.8"/><line x1="396.57" y1="47.44" x2="394.77" y2="47.64" stroke="#1a1a1a" stroke-width="0.8"/><line x1="403.34" y1="193.71" x2="401.74" y2="196.11" stroke="#1a1a1a" stroke-width="0.8"/><line x1="416.24" y1="198.08" x2="414.64" y2="200.48" stroke="#1a1a1a" stroke-width="0.8"/><line x1="429.52" y1="202.57" x2="427.92" y2="204.97" stroke="#1a1a1a" stroke-width="0.8"/><line x1="443.21" y1="207.2" x2="441.61" y2="209.6" stroke="#1a1a1a" stroke-width="0.8"/><line x1="457.33" y1="211.97" x2="455.73" y2="214.37" stroke="#1a1a1a" stroke-width="0.8"/><line x1="471.88" y1="216.89" x2="470.28" y2="219.29" stroke="#1a1a1a" stroke-width="0.8"/><line x1="486.91" y1="221.97" x2="485.31" y2="224.37" stroke="#1a1a1a" stroke-width="0.8"/><line x1="502.42" y1="227.22" x2="500.82" y2="229.62" stroke="#1a1a1a" stroke-width="0.8"/><line x1="518.44" y1="232.63" x2="516.84" y2="235.03" stroke="#1a1a1a" stroke-width="0.8"/><line x1="535" y1="238.23" x2="533.4" y2="240.63" stroke="#1a1a1a" stroke-width="0.8"/><line x1="553.59" y1="236.22" x2="556.19" y2="237.42" stroke="#1a1a1a" stroke-width="0.8"/><line x1="572.91" y1="226.87" x2="575.51" y2="228.07" stroke="#1a1a1a" stroke-width="0.8"/><line x1="591.17" y1="218.04" x2="593.77" y2="219.24" stroke="#1a1a1a" stroke-width="0.8"/><line x1="608.45" y1="209.68" x2="611.05" y2="210.88" stroke="#1a1a1a" stroke-width="0.8"/><line x1="624.81" y1="201.77" x2="627.41" y2="202.97" stroke="#1a1a1a" stroke-width="0.8"/><line x1="640.34" y1="194.26" x2="642.94" y2="195.46" stroke="#1a1a1a" stroke-width="0.8"/>
<path d="M518.46 161.69 L518.49 161.58 L518.56 161.49 L518.62 161.29 L518.69 160.97 L518.75 159.67 L518.88 156.17 L519 148.65 L519.32 145.72 L519.64 137.4 L520.29 133.28 L520.94 129.7 L521.59 126.79 L522.24 123.53 L523.56 118.34 L525.18 113.01 L531.6 92.8 L538.7 77.3 L545.89 65.64 L552.98 55.71 L560.35 48.47 L574.36 38.44 L589.89 32.19 L630.72 25.77" fill="none" stroke="#ffff33" stroke-width="1.4"/>
<circle cx="518.46" cy="161.69" r="4.8" fill="#ffff00"/><circle cx="518.49" cy="161.58" r="4.8" fill="#ffff00"/><circle cx="518.56" cy="161.49" r="4.8" fill="#ffff00"/><circle cx="518.62" cy="161.29" r="4.8" fill="#ffff00"/><circle cx="518.69" cy="160.97" r="4.8" fill="#ffff00"/><circle cx="518.75" cy="159.67" r="4.8" fill="#ffff00"/><circle cx="518.88" cy="156.17" r="4.8" fill="#ffff00"/><circle cx="519" cy="148.65" r="4.8" fill="#ffff00"/><circle cx="519.32" cy="145.72" r="4.8" fill="#ffff00"/><circle cx="519.64" cy="137.4" r="4.8" fill="#ffff00"/><circle cx="520.29" cy="133.28" r="4.8" fill="#ffff00"/><circle cx="520.94" cy="129.7" r="4.8" fill="#ffff00"/><circle cx="521.59" cy="126.79" r="4.8" fill="#ffff00"/><circle cx="522.24" cy="123.53" r="4.8" fill="#ffff00"/><circle cx="523.56" cy="118.34" r="4.8" fill="#ffff00"/><circle cx="525.18" cy="113.01" r="4.8" fill="#ffff00"/><circle cx="531.6" cy="92.8" r="4.8" fill="#ffff00"/><circle cx="538.7" cy="77.3" r="4.8" fill="#ffff00"/><circle cx="545.89" cy="65.64" r="4.8" fill="#ffff00"/><circle cx="552.98" cy="55.71" r="4.8" fill="#ffff00"/><circle cx="560.35" cy="48.47" r="4.8" fill="#ffff00"/><circle cx="574.36" cy="38.44" r="4.8" fill="#ffff00"/><circle cx="589.89" cy="32.19" r="4.8" fill="#ffff00"/><circle cx="630.72" cy="25.77" r="4.8" fill="#ffff00"/>
<path d="M501.84 167.59 L501.87 167.49 L501.94 167.4 L502 167.19 L502.06 166.87 L502.11 165.54 L502.22 161.96 L502.29 154.29 L502.59 151.3 L502.86 142.8 L503.48 138.6 L504.11 134.95 L504.75 131.98 L505.38 128.65 L506.67 123.35 L507.12 117.2 L513.94 96.41 L520.75 80.61 L528.44 68.18 L535.04 58.15 L543.3 50.91 L557.3 41.81 L572.46 33.29 L613.5 27.02" fill="none" stroke="#ff7f00" stroke-width="1.4"/>
<polygon points="501.84,163.99 505.24,169.99 498.44,169.99" fill="#ffd000"/><polygon points="501.84,163.99 505.24,169.99 503.04,169.99" fill="#f59a00"/><polygon points="501.87,163.89 505.27,169.89 498.47,169.89" fill="#ffd000"/><polygon points="501.87,163.89 505.27,169.89 503.07,169.89" fill="#f59a00"/><polygon points="501.94,163.8 505.34,169.8 498.54,169.8" fill="#ffd000"/><polygon points="501.94,163.8 505.34,169.8 503.14,169.8" fill="#f59a00"/><polygon points="502,163.59 505.4,169.59 498.6,169.59" fill="#ffd000"/><polygon points="502,163.59 505.4,169.59 503.2,169.59" fill="#f59a00"/><polygon points="502.06,163.27 505.46,169.27 498.66,169.27" fill="#ffd000"/><polygon points="502.06,163.27 505.46,169.27 503.26,169.27" fill="#f59a00"/><polygon points="502.11,161.94 505.51,167.94 498.71,167.94" fill="#ffd000"/><polygon points="502.11,161.94 505.51,167.94 503.31,167.94" fill="#f59a00"/><polygon points="502.22,158.36 505.62,164.36 498.82,164.36" fill="#ffd000"/><polygon points="502.22,158.36 505.62,164.36 503.42,164.36" fill="#f59a00"/><polygon points="502.29,150.69 505.69,156.69 498.89,156.69" fill="#ffd000"/><polygon points="502.29,150.69 505.69,156.69 503.49,156.69" fill="#f59a00"/><polygon points="502.59,147.7 505.99,153.7 499.19,153.7" fill="#ffd000"/><polygon points="502.59,147.7 505.99,153.7 503.79,153.7" fill="#f59a00"/><polygon points="502.86,139.2 506.26,145.2 499.46,145.2" fill="#ffd000"/><polygon points="502.86,139.2 506.26,145.2 504.06,145.2" fill="#f59a00"/><polygon points="503.48,135 506.88,141 500.08,141" fill="#ffd000"/><polygon points="503.48,135 506.88,141 504.68,141" fill="#f59a00"/><polygon points="504.11,131.35 507.51,137.35 500.71,137.35" fill="#ffd000"/><polygon points="504.11,131.35 507.51,137.35 505.31,137.35" fill="#f59a00"/><polygon points="504.75,128.38 508.15,134.38 501.35,134.38" fill="#ffd000"/><polygon points="504.75,128.38 508.15,134.38 505.95,134.38" fill="#f59a00"/><polygon points="505.38,125.05 508.78,131.05 501.98,131.05" fill="#ffd000"/><polygon points="505.38,125.05 508.78,131.05 506.58,131.05" fill="#f59a00"/><polygon points="506.67,119.75 510.07,125.75 503.27,125.75" fill="#ffd000"/><polygon points="506.67,119.75 510.07,125.75 507.87,125.75" fill="#f59a00"/><polygon points="507.12,113.6 510.52,119.6 503.72,119.6" fill="#ffd000"/><polygon points="507.12,113.6 510.52,119.6 508.32,119.6" fill="#f59a00"/><polygon points="513.94,92.81 517.34,98.81 510.54,98.81" fill="#ffd000"/><polygon points="513.94,92.81 517.34,98.81 515.14,98.81" fill="#f59a00"/><polygon points="520.75,77.01 524.15,83.01 517.35,83.01" fill="#ffd000"/><polygon points="520.75,77.01 524.15,83.01 521.95,83.01" fill="#f59a00"/><polygon points="528.44,64.58 531.84,70.58 525.04,70.58" fill="#ffd000"/><polygon points="528.44,64.58 531.84,70.58 529.64,70.58" fill="#f59a00"/><polygon points="535.04,54.55 538.44,60.55 531.64,60.55" fill="#ffd000"/><polygon points="535.04,54.55 538.44,60.55 536.24,60.55" fill="#f59a00"/><polygon points="543.3,47.31 546.7,53.31 539.9,53.31" fill="#ffd000"/><polygon points="543.3,47.31 546.7,53.31 544.5,53.31" fill="#f59a00"/><polygon points="557.3,38.21 560.7,44.21 553.9,44.21" fill="#ffd000"/><polygon points="557.3,38.21 560.7,44.21 558.5,44.21" fill="#f59a00"/><polygon points="572.46,29.69 575.86,35.69 569.06,35.69" fill="#ffd000"/><polygon points="572.46,29.69 575.86,35.69 573.66,35.69" fill="#f59a00"/><polygon points="613.5,23.42 616.9,29.42 610.1,29.42" fill="#ffd000"/><polygon points="613.5,23.42 616.9,29.42 614.7,29.42" fill="#f59a00"/>
<path d="M484.43 173.78 L484.46 173.68 L484.52 173.58 L484.58 173.37 L484.64 173.04 L484.69 171.68 L484.76 168.03 L484.78 160.2 L485.07 157.14 L485.27 148.47 L485.87 144.17 L486.47 140.44 L487.09 137.41 L487.7 134.01 L488.96 128.61 L490.64 122.8 L496.88 101.14 L503.99 85.05 L511.09 72.71 L518.28 62.58 L525.85 55.62 L539.33 45.36 L554.63 37.52 L596.77 31.46" fill="none" stroke="#984ea3" stroke-width="1.4"/>
<polygon points="484.43,169.78 485.28,172.32 487.47,172.55 485.8,174.34 486.31,177.02 484.43,175.6 482.54,177.02 483.05,174.34 481.38,172.55 483.57,172.32" fill="#e27cf2" stroke="#d060e0" stroke-width="0.5"/><polygon points="484.46,169.68 485.31,172.21 487.5,172.44 485.84,174.24 486.34,176.91 484.46,175.49 482.58,176.91 483.08,174.24 481.41,172.44 483.6,172.21" fill="#e27cf2" stroke="#d060e0" stroke-width="0.5"/><polygon points="484.52,169.58 485.37,172.12 487.56,172.35 485.9,174.14 486.4,176.82 484.52,175.39 482.64,176.82 483.14,174.14 481.48,172.35 483.67,172.12" fill="#e27cf2" stroke="#d060e0" stroke-width="0.5"/><polygon points="484.58,169.37 485.43,171.9 487.62,172.13 485.96,173.93 486.46,176.61 484.58,175.18 482.7,176.61 483.2,173.93 481.54,172.13 483.73,171.9" fill="#e27cf2" stroke="#d060e0" stroke-width="0.5"/><polygon points="484.64,169.04 485.49,171.58 487.68,171.81 486.02,173.6 486.52,176.28 484.64,174.86 482.76,176.28 483.26,173.6 481.6,171.81 483.79,171.58" fill="#e27cf2" stroke="#d060e0" stroke-width="0.5"/><polygon points="484.69,167.68 485.54,170.22 487.73,170.45 486.06,172.24 486.57,174.92 484.69,173.5 482.81,174.92 483.31,172.24 481.64,170.45 483.83,170.22" fill="#e27cf2" stroke="#d060e0" stroke-width="0.5"/><polygon points="484.76,164.03 485.62,166.57 487.81,166.8 486.14,168.59 486.64,171.27 484.76,169.84 482.88,171.27 483.38,168.59 481.72,166.8 483.91,166.57" fill="#e27cf2" stroke="#d060e0" stroke-width="0.5"/><polygon points="484.78,156.2 485.64,158.73 487.83,158.96 486.16,160.76 486.67,163.43 484.78,162.01 482.9,163.43 483.41,160.76 481.74,158.96 483.93,158.73" fill="#e27cf2" stroke="#d060e0" stroke-width="0.5"/><polygon points="485.07,153.14 485.92,155.68 488.11,155.91 486.45,157.7 486.95,160.38 485.07,158.96 483.19,160.38 483.69,157.7 482.02,155.91 484.21,155.68" fill="#e27cf2" stroke="#d060e0" stroke-width="0.5"/><polygon points="485.27,144.47 486.12,147 488.32,147.23 486.65,149.03 487.15,151.7 485.27,150.28 483.39,151.7 483.89,149.03 482.23,147.23 484.42,147" fill="#e27cf2" stroke="#d060e0" stroke-width="0.5"/><polygon points="485.87,140.17 486.72,142.7 488.91,142.93 487.25,144.73 487.75,147.4 485.87,145.98 483.99,147.4 484.49,144.73 482.82,142.93 485.01,142.7" fill="#e27cf2" stroke="#d060e0" stroke-width="0.5"/><polygon points="486.47,136.44 487.32,138.98 489.52,139.21 487.85,141 488.35,143.68 486.47,142.26 484.59,143.68 485.09,141 483.43,139.21 485.62,138.98" fill="#e27cf2" stroke="#d060e0" stroke-width="0.5"/><polygon points="487.09,133.41 487.94,135.95 490.13,136.18 488.47,137.97 488.97,140.65 487.09,139.22 485.21,140.65 485.71,137.97 484.05,136.18 486.24,135.95" fill="#e27cf2" stroke="#d060e0" stroke-width="0.5"/><polygon points="487.7,130.01 488.56,132.55 490.75,132.78 489.08,134.57 489.59,137.25 487.7,135.82 485.82,137.25 486.33,134.57 484.66,132.78 486.85,132.55" fill="#e27cf2" stroke="#d060e0" stroke-width="0.5"/><polygon points="488.96,124.61 489.81,127.14 492,127.37 490.34,129.17 490.84,131.84 488.96,130.42 487.08,131.84 487.58,129.17 485.92,127.37 488.11,127.14" fill="#e27cf2" stroke="#d060e0" stroke-width="0.5"/><polygon points="490.64,118.8 491.49,121.34 493.68,121.57 492.02,123.36 492.52,126.04 490.64,124.61 488.76,126.04 489.26,123.36 487.6,121.57 489.79,121.34" fill="#e27cf2" stroke="#d060e0" stroke-width="0.5"/><polygon points="496.88,97.14 497.73,99.67 499.92,99.9 498.26,101.7 498.76,104.38 496.88,102.95 495,104.38 495.5,101.7 493.83,99.9 496.02,99.67" fill="#e27cf2" stroke="#d060e0" stroke-width="0.5"/><polygon points="503.99,81.05 504.84,83.58 507.03,83.81 505.36,85.61 505.87,88.29 503.99,86.86 502.1,88.29 502.61,85.61 500.94,83.81 503.13,83.58" fill="#e27cf2" stroke="#d060e0" stroke-width="0.5"/><polygon points="511.09,68.71 511.94,71.24 514.13,71.47 512.46,73.27 512.97,75.95 511.09,74.52 509.2,75.95 509.71,73.27 508.04,71.47 510.23,71.24" fill="#e27cf2" stroke="#d060e0" stroke-width="0.5"/><polygon points="518.28,58.58 519.13,61.12 521.32,61.35 519.66,63.14 520.16,65.82 518.28,64.39 516.4,65.82 516.9,63.14 515.23,61.35 517.43,61.12" fill="#e27cf2" stroke="#d060e0" stroke-width="0.5"/><polygon points="525.85,51.62 526.71,54.16 528.9,54.39 527.23,56.18 527.74,58.86 525.85,57.43 523.97,58.86 524.48,56.18 522.81,54.39 525,54.16" fill="#e27cf2" stroke="#d060e0" stroke-width="0.5"/><polygon points="539.33,41.36 540.19,43.9 542.38,44.13 540.71,45.92 541.22,48.6 539.33,47.17 537.45,48.6 537.96,45.92 536.29,44.13 538.48,43.9" fill="#e27cf2" stroke="#d060e0" stroke-width="0.5"/><polygon points="554.63,33.52 555.49,36.05 557.68,36.28 556.01,38.08 556.51,40.75 554.63,39.33 552.75,40.75 553.25,38.08 551.59,36.28 553.78,36.05" fill="#e27cf2" stroke="#d060e0" stroke-width="0.5"/><polygon points="596.77,27.46 597.62,30 599.81,30.23 598.15,32.02 598.65,34.7 596.77,33.28 594.89,34.7 595.39,32.02 593.73,30.23 595.92,30" fill="#e27cf2" stroke="#d060e0" stroke-width="0.5"/>
<path d="M466.16 178.48 L466.19 178.37 L466.25 178.27 L466.31 178.05 L466.37 177.72 L466.4 176.33 L466.45 172.6 L466.41 164.59 L466.67 161.48 L466.81 152.61 L467.38 148.22 L467.96 144.41 L468.55 141.32 L469.14 137.85 L470.36 132.33 L471.7 126.89 L478.24 105.99 L484.76 88.93 L491.87 77.26 L498.96 67.41 L506.06 59.2 L521.09 49.42 L536.13 42.06 L578.48 38.92" fill="none" stroke="#4daf4a" stroke-width="1.4"/>
<circle cx="466.16" cy="178.48" r="4.65" fill="url(#gs)"/><circle cx="466.19" cy="178.37" r="4.65" fill="url(#gs)"/><circle cx="466.25" cy="178.27" r="4.65" fill="url(#gs)"/><circle cx="466.31" cy="178.05" r="4.65" fill="url(#gs)"/><circle cx="466.37" cy="177.72" r="4.65" fill="url(#gs)"/><circle cx="466.4" cy="176.33" r="4.65" fill="url(#gs)"/><circle cx="466.45" cy="172.6" r="4.65" fill="url(#gs)"/><circle cx="466.41" cy="164.59" r="4.65" fill="url(#gs)"/><circle cx="466.67" cy="161.48" r="4.65" fill="url(#gs)"/><circle cx="466.81" cy="152.61" r="4.65" fill="url(#gs)"/><circle cx="467.38" cy="148.22" r="4.65" fill="url(#gs)"/><circle cx="467.96" cy="144.41" r="4.65" fill="url(#gs)"/><circle cx="468.55" cy="141.32" r="4.65" fill="url(#gs)"/><circle cx="469.14" cy="137.85" r="4.65" fill="url(#gs)"/><circle cx="470.36" cy="132.33" r="4.65" fill="url(#gs)"/><circle cx="471.7" cy="126.89" r="4.65" fill="url(#gs)"/><circle cx="478.24" cy="105.99" r="4.65" fill="url(#gs)"/><circle cx="484.76" cy="88.93" r="4.65" fill="url(#gs)"/><circle cx="491.87" cy="77.26" r="4.65" fill="url(#gs)"/><circle cx="498.96" cy="67.41" r="4.65" fill="url(#gs)"/><circle cx="506.06" cy="59.2" r="4.65" fill="url(#gs)"/><circle cx="521.09" cy="49.42" r="4.65" fill="url(#gs)"/><circle cx="536.13" cy="42.06" r="4.65" fill="url(#gs)"/><circle cx="578.48" cy="38.92" r="4.65" fill="url(#gs)"/>
<path d="M446.98 187.09 L447.01 186.98 L447.07 186.88 L447.13 186.66 L447.18 186.32 L447.2 184.9 L447.22 181.09 L447.12 172.9 L447.35 169.72 L447.42 160.65 L447.95 156.17 L448.5 152.28 L449.07 149.12 L449.63 145.57 L450.81 139.93 L452.47 133.89 L458.32 111.92 L465.15 95.15 L471.97 82.22 L479.37 71.6 L486.76 63.87 L501.61 53.5 L516.46 45.91 L558.83 42.42" fill="none" stroke="#377eb8" stroke-width="1.4"/>
<path d="M441.98 183.39h10v7.7h-10z" fill="#4fc0fa"/><path d="M446.98 183.29h5v7.6h-5z" fill="#3e96dd"/><path d="M441.98 182.79h10v1.3h-10z" fill="#4aa6e6"/><path d="M442.01 183.28h10v7.7h-10z" fill="#4fc0fa"/><path d="M447.01 183.18h5v7.6h-5z" fill="#3e96dd"/><path d="M442.01 182.68h10v1.3h-10z" fill="#4aa6e6"/><path d="M442.07 183.18h10v7.7h-10z" fill="#4fc0fa"/><path d="M447.07 183.08h5v7.6h-5z" fill="#3e96dd"/><path d="M442.07 182.58h10v1.3h-10z" fill="#4aa6e6"/><path d="M442.13 182.96h10v7.7h-10z" fill="#4fc0fa"/><path d="M447.13 182.86h5v7.6h-5z" fill="#3e96dd"/><path d="M442.13 182.36h10v1.3h-10z" fill="#4aa6e6"/><path d="M442.18 182.62h10v7.7h-10z" fill="#4fc0fa"/><path d="M447.18 182.52h5v7.6h-5z" fill="#3e96dd"/><path d="M442.18 182.02h10v1.3h-10z" fill="#4aa6e6"/><path d="M442.2 181.2h10v7.7h-10z" fill="#4fc0fa"/><path d="M447.2 181.1h5v7.6h-5z" fill="#3e96dd"/><path d="M442.2 180.6h10v1.3h-10z" fill="#4aa6e6"/><path d="M442.22 177.39h10v7.7h-10z" fill="#4fc0fa"/><path d="M447.22 177.29h5v7.6h-5z" fill="#3e96dd"/><path d="M442.22 176.79h10v1.3h-10z" fill="#4aa6e6"/><path d="M442.12 169.2h10v7.7h-10z" fill="#4fc0fa"/><path d="M447.12 169.1h5v7.6h-5z" fill="#3e96dd"/><path d="M442.12 168.6h10v1.3h-10z" fill="#4aa6e6"/><path d="M442.35 166.02h10v7.7h-10z" fill="#4fc0fa"/><path d="M447.35 165.92h5v7.6h-5z" fill="#3e96dd"/><path d="M442.35 165.42h10v1.3h-10z" fill="#4aa6e6"/><path d="M442.42 156.95h10v7.7h-10z" fill="#4fc0fa"/><path d="M447.42 156.85h5v7.6h-5z" fill="#3e96dd"/><path d="M442.42 156.35h10v1.3h-10z" fill="#4aa6e6"/><path d="M442.95 152.47h10v7.7h-10z" fill="#4fc0fa"/><path d="M447.95 152.37h5v7.6h-5z" fill="#3e96dd"/><path d="M442.95 151.87h10v1.3h-10z" fill="#4aa6e6"/><path d="M443.5 148.58h10v7.7h-10z" fill="#4fc0fa"/><path d="M448.5 148.48h5v7.6h-5z" fill="#3e96dd"/><path d="M443.5 147.98h10v1.3h-10z" fill="#4aa6e6"/><path d="M444.07 145.42h10v7.7h-10z" fill="#4fc0fa"/><path d="M449.07 145.32h5v7.6h-5z" fill="#3e96dd"/><path d="M444.07 144.82h10v1.3h-10z" fill="#4aa6e6"/><path d="M444.63 141.87h10v7.7h-10z" fill="#4fc0fa"/><path d="M449.63 141.77h5v7.6h-5z" fill="#3e96dd"/><path d="M444.63 141.27h10v1.3h-10z" fill="#4aa6e6"/><path d="M445.81 136.23h10v7.7h-10z" fill="#4fc0fa"/><path d="M450.81 136.13h5v7.6h-5z" fill="#3e96dd"/><path d="M445.81 135.63h10v1.3h-10z" fill="#4aa6e6"/><path d="M447.47 130.19h10v7.7h-10z" fill="#4fc0fa"/><path d="M452.47 130.09h5v7.6h-5z" fill="#3e96dd"/><path d="M447.47 129.59h10v1.3h-10z" fill="#4aa6e6"/><path d="M453.32 108.22h10v7.7h-10z" fill="#4fc0fa"/><path d="M458.32 108.12h5v7.6h-5z" fill="#3e96dd"/><path d="M453.32 107.62h10v1.3h-10z" fill="#4aa6e6"/><path d="M460.15 91.45h10v7.7h-10z" fill="#4fc0fa"/><path d="M465.15 91.35h5v7.6h-5z" fill="#3e96dd"/><path d="M460.15 90.85h10v1.3h-10z" fill="#4aa6e6"/><path d="M466.97 78.52h10v7.7h-10z" fill="#4fc0fa"/><path d="M471.97 78.42h5v7.6h-5z" fill="#3e96dd"/><path d="M466.97 77.92h10v1.3h-10z" fill="#4aa6e6"/><path d="M474.37 67.9h10v7.7h-10z" fill="#4fc0fa"/><path d="M479.37 67.8h5v7.6h-5z" fill="#3e96dd"/><path d="M474.37 67.3h10v1.3h-10z" fill="#4aa6e6"/><path d="M481.76 60.17h10v7.7h-10z" fill="#4fc0fa"/><path d="M486.76 60.07h5v7.6h-5z" fill="#3e96dd"/><path d="M481.76 59.57h10v1.3h-10z" fill="#4aa6e6"/><path d="M496.61 49.8h10v7.7h-10z" fill="#4fc0fa"/><path d="M501.61 49.7h5v7.6h-5z" fill="#3e96dd"/><path d="M496.61 49.2h10v1.3h-10z" fill="#4aa6e6"/><path d="M511.46 42.21h10v7.7h-10z" fill="#4fc0fa"/><path d="M516.46 42.11h5v7.6h-5z" fill="#3e96dd"/><path d="M511.46 41.61h10v1.3h-10z" fill="#4aa6e6"/><path d="M553.83 38.72h10v7.7h-10z" fill="#4fc0fa"/><path d="M558.83 38.62h5v7.6h-5z" fill="#3e96dd"/><path d="M553.83 38.12h10v1.3h-10z" fill="#4aa6e6"/>
<path d="M426.81 194.26 L426.84 194.15 L426.9 194.05 L426.95 193.82 L427.01 193.48 L427.02 192.02 L427 188.13 L426.82 179.75 L427.03 176.49 L427.02 167.22 L427.51 162.63 L428.02 158.66 L428.56 155.43 L429.1 151.8 L430.22 146.04 L431.87 138.59 L437.73 116.04 L444.17 98.59 L451.09 85.47 L458.11 74.65 L465.41 66.24 L479.78 55.77 L495.61 49.59 L538.3 45.12" fill="none" stroke="#e41a1c" stroke-width="1.4"/>
<circle cx="426.81" cy="194.26" r="5" fill="#e41a1c"/><circle cx="426.84" cy="194.15" r="5" fill="#e41a1c"/><circle cx="426.9" cy="194.05" r="5" fill="#e41a1c"/><circle cx="426.95" cy="193.82" r="5" fill="#e41a1c"/><circle cx="427.01" cy="193.48" r="5" fill="#e41a1c"/><circle cx="427.02" cy="192.02" r="5" fill="#e41a1c"/><circle cx="427" cy="188.13" r="5" fill="#e41a1c"/><circle cx="426.82" cy="179.75" r="5" fill="#e41a1c"/><circle cx="427.03" cy="176.49" r="5" fill="#e41a1c"/><circle cx="427.02" cy="167.22" r="5" fill="#e41a1c"/><circle cx="427.51" cy="162.63" r="5" fill="#e41a1c"/><circle cx="428.02" cy="158.66" r="5" fill="#e41a1c"/><circle cx="428.56" cy="155.43" r="5" fill="#e41a1c"/><circle cx="429.1" cy="151.8" r="5" fill="#e41a1c"/><circle cx="430.22" cy="146.04" r="5" fill="#e41a1c"/><circle cx="431.87" cy="138.59" r="5" fill="#e41a1c"/><circle cx="437.73" cy="116.04" r="5" fill="#e41a1c"/><circle cx="444.17" cy="98.59" r="5" fill="#e41a1c"/><circle cx="451.09" cy="85.47" r="5" fill="#e41a1c"/><circle cx="458.11" cy="74.65" r="5" fill="#e41a1c"/><circle cx="465.41" cy="66.24" r="5" fill="#e41a1c"/><circle cx="479.78" cy="55.77" r="5" fill="#e41a1c"/><circle cx="495.61" cy="49.59" r="5" fill="#e41a1c"/><circle cx="538.3" cy="45.12" r="5" fill="#e41a1c"/>
<text x="398.14" y="195.91" text-anchor="end" class="b" font-size="11">0</text><text x="397.28" y="177.08" text-anchor="end" class="b" font-size="11">5</text><text x="396.41" y="157.98" text-anchor="end" class="b" font-size="11">10</text><text x="395.52" y="138.59" text-anchor="end" class="b" font-size="11">15</text><text x="394.62" y="118.92" text-anchor="end" class="b" font-size="11">20</text><text x="393.71" y="98.95" text-anchor="end" class="b" font-size="11">25</text><text x="392.78" y="78.68" text-anchor="end" class="b" font-size="11">30</text><text x="391.84" y="58.1" text-anchor="end" class="b" font-size="11">35</text><text x="390.89" y="37.21" text-anchor="end" class="b" font-size="11">40</text><text x="399.14" y="204.21" text-anchor="end" class="b" font-size="11">-2</text><text x="409.74" y="209.18" text-anchor="middle" class="b" font-size="11">0</text><text x="423.02" y="213.67" text-anchor="middle" class="b" font-size="11">2</text><text x="436.71" y="218.3" text-anchor="middle" class="b" font-size="11">4</text><text x="450.83" y="223.07" text-anchor="middle" class="b" font-size="11">6</text><text x="465.38" y="227.99" text-anchor="middle" class="b" font-size="11">8</text><text x="478.91" y="233.07" text-anchor="middle" class="b" font-size="11">10</text><text x="494.42" y="238.32" text-anchor="middle" class="b" font-size="11">12</text><text x="510.44" y="243.73" text-anchor="middle" class="b" font-size="11">14</text><text x="527" y="249.33" text-anchor="middle" class="b" font-size="11">16</text><text x="569.59" y="244.12" text-anchor="middle" class="b" font-size="11">2.39</text><text x="588.91" y="234.77" text-anchor="middle" class="b" font-size="11">2.43</text><text x="607.17" y="225.94" text-anchor="middle" class="b" font-size="11">2.47</text><text x="624.45" y="217.58" text-anchor="middle" class="b" font-size="11">2.42</text><text x="640.81" y="209.67" text-anchor="middle" class="b" font-size="11">2.44</text><text x="656.34" y="202.16" text-anchor="middle" class="b" font-size="11">2.45</text>
<text x="373" y="114.3" text-anchor="middle" class="b" font-size="11.2" transform="rotate(-90 373 114.3)">TVT (cm)</text>
<text x="391.6" y="245.4" class="b" font-size="12.4" textLength="76.3" lengthAdjust="spacingAndGlyphs">Energy (MeV)</text>
<text x="619" y="245.5" class="b" font-size="10.5" transform="rotate(-26.5 619 245.5)">Density (g.cm<tspan font-size="6.3" dy="-4">-3</tspan><tspan dy="4">)</tspan></text>
<rect x="401.4" y="31.6" width="25.3" height="21.8" fill="#000"/>
<rect x="398.4" y="28.6" width="25.3" height="21.8" fill="#fff" stroke="#b0b0b0" stroke-width="0.8"/>
<text x="411.05" y="46" text-anchor="middle" class="s" font-size="17.5" fill="#222">[b]</text>
<rect x="590.4" y="67.5" width="112.4" height="79.4" fill="#000"/>
<rect x="587.6" y="65.3" width="112.4" height="79.4" fill="#fff" stroke="#a8a8a8" stroke-width="0.8"/>
<line x1="588.8" y1="72.9" x2="614.8" y2="72.9" stroke="#e41a1c" stroke-width="1.3"/>
<circle cx="601.8" cy="72.9" r="5.4" fill="#e41a1c"/>
<text x="617.3" y="77.2" class="s" font-size="11.5" fill="#1a1a1a">CO</text>
<line x1="588.8" y1="85.96" x2="614.8" y2="85.96" stroke="#377eb8" stroke-width="1.3"/>
<rect x="596.4" y="80.86" width="10.8" height="10.2" fill="#377eb8"/>
<text x="617.3" y="90.26" class="s" font-size="11.5" fill="#1a1a1a">SF15</text>
<line x1="588.8" y1="99.02" x2="614.8" y2="99.02" stroke="#4daf4a" stroke-width="1.3"/>
<circle cx="601.8" cy="99.02" r="5.3" fill="url(#gl)"/>
<text x="617.3" y="103.32" class="s" font-size="11.5" fill="#1a1a1a">DK10</text>
<line x1="588.8" y1="112.08" x2="614.8" y2="112.08" stroke="#984ea3" stroke-width="1.3"/>
<polygon points="601.8,106.28 603.5,110.53 608.08,110.84 604.56,113.78 605.68,118.22 601.8,115.78 597.92,118.22 599.04,113.78 595.52,110.84 600.1,110.53" fill="#984ea3"/>
<text x="617.3" y="116.38" class="s" font-size="11.5" fill="#1a1a1a">SF15DK10</text>
<line x1="588.8" y1="125.14" x2="614.8" y2="125.14" stroke="#ff7f00" stroke-width="1.3"/>
<polygon points="601.8,118.74 608.1,129.94 595.5,129.94" fill="#ff7f00"/>
<text x="617.3" y="129.44" class="s" font-size="11.5" fill="#1a1a1a">SF15LS10</text>
<line x1="588.8" y1="138.2" x2="614.8" y2="138.2" stroke="#ffff33" stroke-width="1.3"/>
<circle cx="601.8" cy="138.2" r="5.4" fill="#ffff33"/>
<text x="617.3" y="142.5" class="s" font-size="11.5" fill="#1a1a1a">SF15LS10DK10</text>
<g><line x1="230.51" y1="472.91" x2="354.44" y2="429.35" stroke="#fdf0e6" stroke-width="0.8"/><line x1="354.44" y1="429.35" x2="354.6" y2="277.22" stroke="#fdf0e6" stroke-width="0.8"/><line x1="244.18" y1="477.55" x2="367.71" y2="432.78" stroke="#fdf0e6" stroke-width="0.8"/><line x1="367.71" y1="432.78" x2="368.65" y2="278.84" stroke="#fdf0e6" stroke-width="0.8"/><line x1="258.25" y1="482.32" x2="381.3" y2="436.29" stroke="#fdf0e6" stroke-width="0.8"/><line x1="381.3" y1="436.29" x2="383.07" y2="280.5" stroke="#fdf0e6" stroke-width="0.8"/><line x1="272.73" y1="487.23" x2="395.25" y2="439.9" stroke="#fdf0e6" stroke-width="0.8"/><line x1="395.25" y1="439.9" x2="397.89" y2="282.21" stroke="#fdf0e6" stroke-width="0.8"/><line x1="287.66" y1="492.29" x2="409.56" y2="443.6" stroke="#fdf0e6" stroke-width="0.8"/><line x1="409.56" y1="443.6" x2="413.11" y2="283.96" stroke="#fdf0e6" stroke-width="0.8"/><line x1="303.06" y1="497.51" x2="424.25" y2="447.39" stroke="#fdf0e6" stroke-width="0.8"/><line x1="424.25" y1="447.39" x2="428.76" y2="285.77" stroke="#fdf0e6" stroke-width="0.8"/><line x1="318.93" y1="502.9" x2="439.32" y2="451.29" stroke="#fdf0e6" stroke-width="0.8"/><line x1="439.32" y1="451.29" x2="444.85" y2="287.62" stroke="#fdf0e6" stroke-width="0.8"/><line x1="335.32" y1="508.45" x2="454.8" y2="455.29" stroke="#fdf0e6" stroke-width="0.8"/><line x1="454.8" y1="455.29" x2="461.4" y2="289.53" stroke="#fdf0e6" stroke-width="0.8"/><line x1="352.23" y1="514.19" x2="470.71" y2="459.41" stroke="#fdf0e6" stroke-width="0.8"/><line x1="470.71" y1="459.41" x2="478.44" y2="291.49" stroke="#fdf0e6" stroke-width="0.8"/><line x1="369.7" y1="520.11" x2="487.06" y2="463.63" stroke="#fdf0e6" stroke-width="0.8"/><line x1="487.06" y1="463.63" x2="495.98" y2="293.52" stroke="#fdf0e6" stroke-width="0.8"/><line x1="241.47" y1="469.06" x2="389.18" y2="517.98" stroke="#fdf0e6" stroke-width="0.8"/><line x1="241.47" y1="469.06" x2="234.04" y2="295.36" stroke="#fdf0e6" stroke-width="0.8"/><line x1="262.59" y1="461.64" x2="409.36" y2="508.06" stroke="#fdf0e6" stroke-width="0.8"/><line x1="262.59" y1="461.64" x2="256.73" y2="291.94" stroke="#fdf0e6" stroke-width="0.8"/><line x1="282.7" y1="454.57" x2="428.44" y2="498.69" stroke="#fdf0e6" stroke-width="0.8"/><line x1="282.7" y1="454.57" x2="278.28" y2="288.7" stroke="#fdf0e6" stroke-width="0.8"/><line x1="301.88" y1="447.82" x2="446.51" y2="489.81" stroke="#fdf0e6" stroke-width="0.8"/><line x1="301.88" y1="447.82" x2="298.77" y2="285.62" stroke="#fdf0e6" stroke-width="0.8"/><line x1="320.2" y1="441.39" x2="463.65" y2="481.39" stroke="#fdf0e6" stroke-width="0.8"/><line x1="320.2" y1="441.39" x2="318.28" y2="282.68" stroke="#fdf0e6" stroke-width="0.8"/><line x1="337.7" y1="435.23" x2="479.93" y2="473.39" stroke="#fdf0e6" stroke-width="0.8"/><line x1="337.7" y1="435.23" x2="336.87" y2="279.89" stroke="#fdf0e6" stroke-width="0.8"/><line x1="230.51" y1="472.91" x2="354.44" y2="429.35" stroke="#fdf0e6" stroke-width="0.8"/><line x1="354.44" y1="429.35" x2="495.41" y2="465.79" stroke="#fdf0e6" stroke-width="0.8"/><line x1="229.65" y1="454.5" x2="354.46" y2="413.27" stroke="#fdf0e6" stroke-width="0.8"/><line x1="354.46" y1="413.27" x2="496.41" y2="447.82" stroke="#fdf0e6" stroke-width="0.8"/><line x1="228.77" y1="435.82" x2="354.48" y2="397" stroke="#fdf0e6" stroke-width="0.8"/><line x1="354.48" y1="397" x2="497.42" y2="429.6" stroke="#fdf0e6" stroke-width="0.8"/><line x1="227.88" y1="416.87" x2="354.49" y2="380.53" stroke="#fdf0e6" stroke-width="0.8"/><line x1="354.49" y1="380.53" x2="498.45" y2="411.13" stroke="#fdf0e6" stroke-width="0.8"/><line x1="226.97" y1="397.65" x2="354.51" y2="363.85" stroke="#fdf0e6" stroke-width="0.8"/><line x1="354.51" y1="363.85" x2="499.49" y2="392.39" stroke="#fdf0e6" stroke-width="0.8"/><line x1="226.05" y1="378.14" x2="354.53" y2="346.96" stroke="#fdf0e6" stroke-width="0.8"/><line x1="354.53" y1="346.96" x2="500.55" y2="373.38" stroke="#fdf0e6" stroke-width="0.8"/><line x1="225.12" y1="358.34" x2="354.55" y2="329.86" stroke="#fdf0e6" stroke-width="0.8"/><line x1="354.55" y1="329.86" x2="501.63" y2="354.1" stroke="#fdf0e6" stroke-width="0.8"/><line x1="224.17" y1="338.24" x2="354.57" y2="312.53" stroke="#fdf0e6" stroke-width="0.8"/><line x1="354.57" y1="312.53" x2="502.72" y2="334.54" stroke="#fdf0e6" stroke-width="0.8"/><line x1="223.21" y1="317.84" x2="354.58" y2="294.99" stroke="#fdf0e6" stroke-width="0.8"/><line x1="354.58" y1="294.99" x2="503.82" y2="314.69" stroke="#fdf0e6" stroke-width="0.8"/><line x1="222.23" y1="297.13" x2="354.6" y2="277.22" stroke="#fdf0e6" stroke-width="0.8"/><line x1="354.6" y1="277.22" x2="504.95" y2="294.55" stroke="#fdf0e6" stroke-width="0.8"/></g>
<line x1="354.44" y1="429.35" x2="354.6" y2="277.22" stroke="#1a1a1a" stroke-width="1.7"/><line x1="230.51" y1="472.91" x2="354.44" y2="429.35" stroke="#1a1a1a" stroke-width="1.5"/><line x1="354.44" y1="429.35" x2="495.41" y2="465.79" stroke="#1a1a1a" stroke-width="1.5"/><line x1="222.23" y1="297.13" x2="354.6" y2="277.22" stroke="#1a1a1a" stroke-width="1.5"/><line x1="354.6" y1="277.22" x2="504.95" y2="294.55" stroke="#1a1a1a" stroke-width="1.5"/><line x1="495.41" y1="465.79" x2="504.95" y2="294.55" stroke="#1a1a1a" stroke-width="1.5"/><line x1="230.51" y1="472.91" x2="378.65" y2="523.15" stroke="#1a1a1a" stroke-width="1.7"/><line x1="378.65" y1="523.15" x2="495.41" y2="465.79" stroke="#1a1a1a" stroke-width="1.7"/><line x1="230.51" y1="472.91" x2="222.23" y2="297.13" stroke="#1a1a1a" stroke-width="1.7"/>
<line x1="230.51" y1="472.91" x2="227.51" y2="473.21" stroke="#1a1a1a" stroke-width="0.9"/><line x1="229.65" y1="454.5" x2="226.65" y2="454.8" stroke="#1a1a1a" stroke-width="0.9"/><line x1="228.77" y1="435.82" x2="225.77" y2="436.12" stroke="#1a1a1a" stroke-width="0.9"/><line x1="227.88" y1="416.87" x2="224.88" y2="417.17" stroke="#1a1a1a" stroke-width="0.9"/><line x1="226.97" y1="397.65" x2="223.97" y2="397.95" stroke="#1a1a1a" stroke-width="0.9"/><line x1="226.05" y1="378.14" x2="223.05" y2="378.44" stroke="#1a1a1a" stroke-width="0.9"/><line x1="225.12" y1="358.34" x2="222.12" y2="358.64" stroke="#1a1a1a" stroke-width="0.9"/><line x1="224.17" y1="338.24" x2="221.17" y2="338.54" stroke="#1a1a1a" stroke-width="0.9"/><line x1="223.21" y1="317.84" x2="220.21" y2="318.14" stroke="#1a1a1a" stroke-width="0.9"/><line x1="222.23" y1="297.13" x2="219.23" y2="297.43" stroke="#1a1a1a" stroke-width="0.9"/><line x1="230.08" y1="463.74" x2="228.28" y2="463.94" stroke="#1a1a1a" stroke-width="0.8"/><line x1="229.21" y1="445.19" x2="227.41" y2="445.39" stroke="#1a1a1a" stroke-width="0.8"/><line x1="228.32" y1="426.38" x2="226.52" y2="426.58" stroke="#1a1a1a" stroke-width="0.8"/><line x1="227.42" y1="407.29" x2="225.62" y2="407.49" stroke="#1a1a1a" stroke-width="0.8"/><line x1="226.51" y1="387.93" x2="224.71" y2="388.13" stroke="#1a1a1a" stroke-width="0.8"/><line x1="225.59" y1="368.27" x2="223.79" y2="368.47" stroke="#1a1a1a" stroke-width="0.8"/><line x1="224.65" y1="348.32" x2="222.85" y2="348.52" stroke="#1a1a1a" stroke-width="0.8"/><line x1="223.69" y1="328.08" x2="221.89" y2="328.28" stroke="#1a1a1a" stroke-width="0.8"/><line x1="222.72" y1="307.53" x2="220.92" y2="307.73" stroke="#1a1a1a" stroke-width="0.8"/><line x1="230.51" y1="472.91" x2="228.91" y2="475.31" stroke="#1a1a1a" stroke-width="0.8"/><line x1="244.18" y1="477.55" x2="242.58" y2="479.95" stroke="#1a1a1a" stroke-width="0.8"/><line x1="258.25" y1="482.32" x2="256.65" y2="484.72" stroke="#1a1a1a" stroke-width="0.8"/><line x1="272.73" y1="487.23" x2="271.13" y2="489.63" stroke="#1a1a1a" stroke-width="0.8"/><line x1="287.66" y1="492.29" x2="286.06" y2="494.69" stroke="#1a1a1a" stroke-width="0.8"/><line x1="303.06" y1="497.51" x2="301.46" y2="499.91" stroke="#1a1a1a" stroke-width="0.8"/><line x1="318.93" y1="502.9" x2="317.33" y2="505.3" stroke="#1a1a1a" stroke-width="0.8"/><line x1="335.32" y1="508.45" x2="333.72" y2="510.85" stroke="#1a1a1a" stroke-width="0.8"/><line x1="352.23" y1="514.19" x2="350.63" y2="516.59" stroke="#1a1a1a" stroke-width="0.8"/><line x1="369.7" y1="520.11" x2="368.1" y2="522.51" stroke="#1a1a1a" stroke-width="0.8"/><line x1="389.18" y1="517.98" x2="391.78" y2="519.18" stroke="#1a1a1a" stroke-width="0.8"/><line x1="409.36" y1="508.06" x2="411.96" y2="509.26" stroke="#1a1a1a" stroke-width="0.8"/><line x1="428.44" y1="498.69" x2="431.04" y2="499.89" stroke="#1a1a1a" stroke-width="0.8"/><line x1="446.51" y1="489.81" x2="449.11" y2="491.01" stroke="#1a1a1a" stroke-width="0.8"/><line x1="463.65" y1="481.39" x2="466.25" y2="482.59" stroke="#1a1a1a" stroke-width="0.8"/><line x1="479.93" y1="473.39" x2="482.53" y2="474.59" stroke="#1a1a1a" stroke-width="0.8"/>
<path d="M350.25 438.72 L350.28 438.61 L350.35 438.51 L350.42 438.29 L350.48 437.95 L350.55 436.54 L350.69 432.76 L350.82 424.65 L351.16 421.48 L351.51 412.49 L352.19 408.03 L352.88 404.16 L353.58 401.02 L354.27 397.49 L355.67 391.87 L357.4 386.1 L364.22 364.21 L371.76 347.39 L379.39 334.74 L386.92 323.96 L394.75 316.09 L410.37 304.62 L426.86 295.85 L470.17 290.73" fill="none" stroke="#ffff33" stroke-width="1.4"/>
<circle cx="350.25" cy="438.72" r="4.8" fill="#ffff00"/><circle cx="350.28" cy="438.61" r="4.8" fill="#ffff00"/><circle cx="350.35" cy="438.51" r="4.8" fill="#ffff00"/><circle cx="350.42" cy="438.29" r="4.8" fill="#ffff00"/><circle cx="350.48" cy="437.95" r="4.8" fill="#ffff00"/><circle cx="350.55" cy="436.54" r="4.8" fill="#ffff00"/><circle cx="350.69" cy="432.76" r="4.8" fill="#ffff00"/><circle cx="350.82" cy="424.65" r="4.8" fill="#ffff00"/><circle cx="351.16" cy="421.48" r="4.8" fill="#ffff00"/><circle cx="351.51" cy="412.49" r="4.8" fill="#ffff00"/><circle cx="352.19" cy="408.03" r="4.8" fill="#ffff00"/><circle cx="352.88" cy="404.16" r="4.8" fill="#ffff00"/><circle cx="353.58" cy="401.02" r="4.8" fill="#ffff00"/><circle cx="354.27" cy="397.49" r="4.8" fill="#ffff00"/><circle cx="355.67" cy="391.87" r="4.8" fill="#ffff00"/><circle cx="357.4" cy="386.1" r="4.8" fill="#ffff00"/><circle cx="364.22" cy="364.21" r="4.8" fill="#ffff00"/><circle cx="371.76" cy="347.39" r="4.8" fill="#ffff00"/><circle cx="379.39" cy="334.74" r="4.8" fill="#ffff00"/><circle cx="386.92" cy="323.96" r="4.8" fill="#ffff00"/><circle cx="394.75" cy="316.09" r="4.8" fill="#ffff00"/><circle cx="410.37" cy="304.62" r="4.8" fill="#ffff00"/><circle cx="426.86" cy="295.85" r="4.8" fill="#ffff00"/><circle cx="470.17" cy="290.73" r="4.8" fill="#ffff00"/>
<path d="M332.82 445.04 L332.85 444.92 L332.92 444.82 L332.99 444.6 L333.05 444.25 L333.11 442.81 L333.22 438.96 L333.3 430.67 L333.62 427.45 L333.91 418.27 L334.57 413.72 L335.23 409.78 L335.91 406.56 L336.58 402.96 L337.95 397.24 L338.43 390.59 L345.67 368.06 L352.9 350.94 L361.06 337.45 L368.06 326.57 L376.84 318.69 L392.44 308.24 L408.53 298.96 L452.07 292.05" fill="none" stroke="#ff7f00" stroke-width="1.4"/>
<polygon points="332.82,441.44 336.22,447.44 329.42,447.44" fill="#ffd000"/><polygon points="332.82,441.44 336.22,447.44 334.02,447.44" fill="#f59a00"/><polygon points="332.85,441.32 336.25,447.32 329.45,447.32" fill="#ffd000"/><polygon points="332.85,441.32 336.25,447.32 334.05,447.32" fill="#f59a00"/><polygon points="332.92,441.22 336.32,447.22 329.52,447.22" fill="#ffd000"/><polygon points="332.92,441.22 336.32,447.22 334.12,447.22" fill="#f59a00"/><polygon points="332.99,441 336.39,447 329.59,447" fill="#ffd000"/><polygon points="332.99,441 336.39,447 334.19,447" fill="#f59a00"/><polygon points="333.05,440.65 336.45,446.65 329.65,446.65" fill="#ffd000"/><polygon points="333.05,440.65 336.45,446.65 334.25,446.65" fill="#f59a00"/><polygon points="333.11,439.21 336.51,445.21 329.71,445.21" fill="#ffd000"/><polygon points="333.11,439.21 336.51,445.21 334.31,445.21" fill="#f59a00"/><polygon points="333.22,435.36 336.62,441.36 329.82,441.36" fill="#ffd000"/><polygon points="333.22,435.36 336.62,441.36 334.42,441.36" fill="#f59a00"/><polygon points="333.3,427.07 336.7,433.07 329.9,433.07" fill="#ffd000"/><polygon points="333.3,427.07 336.7,433.07 334.5,433.07" fill="#f59a00"/><polygon points="333.62,423.85 337.02,429.85 330.22,429.85" fill="#ffd000"/><polygon points="333.62,423.85 337.02,429.85 334.82,429.85" fill="#f59a00"/><polygon points="333.91,414.67 337.31,420.67 330.51,420.67" fill="#ffd000"/><polygon points="333.91,414.67 337.31,420.67 335.11,420.67" fill="#f59a00"/><polygon points="334.57,410.12 337.97,416.12 331.17,416.12" fill="#ffd000"/><polygon points="334.57,410.12 337.97,416.12 335.77,416.12" fill="#f59a00"/><polygon points="335.23,406.18 338.63,412.18 331.83,412.18" fill="#ffd000"/><polygon points="335.23,406.18 338.63,412.18 336.43,412.18" fill="#f59a00"/><polygon points="335.91,402.96 339.31,408.96 332.51,408.96" fill="#ffd000"/><polygon points="335.91,402.96 339.31,408.96 337.11,408.96" fill="#f59a00"/><polygon points="336.58,399.36 339.98,405.36 333.18,405.36" fill="#ffd000"/><polygon points="336.58,399.36 339.98,405.36 337.78,405.36" fill="#f59a00"/><polygon points="337.95,393.64 341.35,399.64 334.55,399.64" fill="#ffd000"/><polygon points="337.95,393.64 341.35,399.64 339.15,399.64" fill="#f59a00"/><polygon points="338.43,386.99 341.83,392.99 335.03,392.99" fill="#ffd000"/><polygon points="338.43,386.99 341.83,392.99 339.63,392.99" fill="#f59a00"/><polygon points="345.67,364.46 349.07,370.46 342.27,370.46" fill="#ffd000"/><polygon points="345.67,364.46 349.07,370.46 346.87,370.46" fill="#f59a00"/><polygon points="352.9,347.34 356.3,353.34 349.5,353.34" fill="#ffd000"/><polygon points="352.9,347.34 356.3,353.34 354.1,353.34" fill="#f59a00"/><polygon points="361.06,333.85 364.46,339.85 357.66,339.85" fill="#ffd000"/><polygon points="361.06,333.85 364.46,339.85 362.26,339.85" fill="#f59a00"/><polygon points="368.06,322.97 371.46,328.97 364.66,328.97" fill="#ffd000"/><polygon points="368.06,322.97 371.46,328.97 369.26,328.97" fill="#f59a00"/><polygon points="376.84,315.09 380.24,321.09 373.44,321.09" fill="#ffd000"/><polygon points="376.84,315.09 380.24,321.09 378.04,321.09" fill="#f59a00"/><polygon points="392.44,304.64 395.84,310.64 389.04,310.64" fill="#ffd000"/><polygon points="392.44,304.64 395.84,310.64 393.64,310.64" fill="#f59a00"/><polygon points="408.53,295.36 411.93,301.36 405.13,301.36" fill="#ffd000"/><polygon points="408.53,295.36 411.93,301.36 409.73,301.36" fill="#f59a00"/><polygon points="452.07,288.45 455.47,294.45 448.67,294.45" fill="#ffd000"/><polygon points="452.07,288.45 455.47,294.45 453.27,294.45" fill="#f59a00"/>
<path d="M314.58 451.65 L314.61 451.53 L314.68 451.43 L314.74 451.2 L314.81 450.85 L314.85 449.38 L314.94 445.44 L314.96 436.99 L315.25 433.69 L315.47 424.32 L316.1 419.68 L316.74 415.66 L317.4 412.38 L318.05 408.71 L319.38 402.86 L321.16 396.58 L327.77 373.13 L335.31 355.7 L342.84 342.31 L350.48 331.32 L358.52 323.76 L373.57 312.05 L389.81 303.5 L434.49 300.19" fill="none" stroke="#984ea3" stroke-width="1.4"/>
<polygon points="314.58,447.65 315.43,450.18 317.62,450.41 315.96,452.21 316.46,454.88 314.58,453.46 312.7,454.88 313.2,452.21 311.53,450.41 313.73,450.18" fill="#e27cf2" stroke="#d060e0" stroke-width="0.5"/><polygon points="314.61,447.53 315.46,450.07 317.65,450.3 315.99,452.09 316.49,454.77 314.61,453.35 312.73,454.77 313.23,452.09 311.57,450.3 313.76,450.07" fill="#e27cf2" stroke="#d060e0" stroke-width="0.5"/><polygon points="314.68,447.43 315.53,449.96 317.72,450.19 316.06,451.99 316.56,454.67 314.68,453.24 312.8,454.67 313.3,451.99 311.63,450.19 313.82,449.96" fill="#e27cf2" stroke="#d060e0" stroke-width="0.5"/><polygon points="314.74,447.2 315.59,449.74 317.79,449.97 316.12,451.76 316.62,454.44 314.74,453.01 312.86,454.44 313.36,451.76 311.7,449.97 313.89,449.74" fill="#e27cf2" stroke="#d060e0" stroke-width="0.5"/><polygon points="314.81,446.85 315.66,449.38 317.85,449.61 316.18,451.41 316.69,454.09 314.81,452.66 312.92,454.09 313.43,451.41 311.76,449.61 313.95,449.38" fill="#e27cf2" stroke="#d060e0" stroke-width="0.5"/><polygon points="314.85,445.38 315.71,447.91 317.9,448.14 316.23,449.94 316.73,452.62 314.85,451.19 312.97,452.62 313.47,449.94 311.81,448.14 314,447.91" fill="#e27cf2" stroke="#d060e0" stroke-width="0.5"/><polygon points="314.94,441.44 315.79,443.98 317.98,444.21 316.31,446 316.82,448.68 314.94,447.26 313.05,448.68 313.56,446 311.89,444.21 314.08,443.98" fill="#e27cf2" stroke="#d060e0" stroke-width="0.5"/><polygon points="314.96,432.99 315.81,435.52 318,435.75 316.33,437.55 316.84,440.22 314.96,438.8 313.08,440.22 313.58,437.55 311.91,435.75 314.1,435.52" fill="#e27cf2" stroke="#d060e0" stroke-width="0.5"/><polygon points="315.25,429.69 316.11,432.23 318.3,432.46 316.63,434.25 317.14,436.93 315.25,435.51 313.37,436.93 313.88,434.25 312.21,432.46 314.4,432.23" fill="#e27cf2" stroke="#d060e0" stroke-width="0.5"/><polygon points="315.47,420.32 316.32,422.86 318.52,423.09 316.85,424.88 317.35,427.56 315.47,426.14 313.59,427.56 314.09,424.88 312.43,423.09 314.62,422.86" fill="#e27cf2" stroke="#d060e0" stroke-width="0.5"/><polygon points="316.1,415.68 316.95,418.22 319.14,418.45 317.48,420.24 317.98,422.92 316.1,421.5 314.22,422.92 314.72,420.24 313.06,418.45 315.25,418.22" fill="#e27cf2" stroke="#d060e0" stroke-width="0.5"/><polygon points="316.74,411.66 317.59,414.19 319.79,414.42 318.12,416.22 318.62,418.89 316.74,417.47 314.86,418.89 315.36,416.22 313.7,414.42 315.89,414.19" fill="#e27cf2" stroke="#d060e0" stroke-width="0.5"/><polygon points="317.4,408.38 318.25,410.91 320.44,411.14 318.77,412.94 319.28,415.62 317.4,414.19 315.51,415.62 316.02,412.94 314.35,411.14 316.54,410.91" fill="#e27cf2" stroke="#d060e0" stroke-width="0.5"/><polygon points="318.05,404.71 318.9,407.24 321.09,407.47 319.43,409.27 319.93,411.94 318.05,410.52 316.17,411.94 316.67,409.27 315,407.47 317.19,407.24" fill="#e27cf2" stroke="#d060e0" stroke-width="0.5"/><polygon points="319.38,398.86 320.23,401.39 322.42,401.62 320.76,403.42 321.26,406.1 319.38,404.67 317.5,406.1 318,403.42 316.33,401.62 318.52,401.39" fill="#e27cf2" stroke="#d060e0" stroke-width="0.5"/><polygon points="321.16,392.58 322.01,395.11 324.2,395.34 322.54,397.14 323.04,399.82 321.16,398.39 319.28,399.82 319.78,397.14 318.11,395.34 320.31,395.11" fill="#e27cf2" stroke="#d060e0" stroke-width="0.5"/><polygon points="327.77,369.13 328.62,371.67 330.81,371.9 329.15,373.69 329.65,376.37 327.77,374.95 325.89,376.37 326.39,373.69 324.73,371.9 326.92,371.67" fill="#e27cf2" stroke="#d060e0" stroke-width="0.5"/><polygon points="335.31,351.7 336.16,354.23 338.35,354.46 336.69,356.26 337.19,358.93 335.31,357.51 333.43,358.93 333.93,356.26 332.27,354.46 334.46,354.23" fill="#e27cf2" stroke="#d060e0" stroke-width="0.5"/><polygon points="342.84,338.31 343.7,340.85 345.89,341.08 344.22,342.87 344.73,345.55 342.84,344.13 340.96,345.55 341.47,342.87 339.8,341.08 341.99,340.85" fill="#e27cf2" stroke="#d060e0" stroke-width="0.5"/><polygon points="350.48,327.32 351.33,329.85 353.52,330.08 351.86,331.88 352.36,334.56 350.48,333.13 348.6,334.56 349.1,331.88 347.43,330.08 349.63,329.85" fill="#e27cf2" stroke="#d060e0" stroke-width="0.5"/><polygon points="358.52,319.76 359.37,322.29 361.56,322.52 359.9,324.32 360.4,326.99 358.52,325.57 356.64,326.99 357.14,324.32 355.48,322.52 357.67,322.29" fill="#e27cf2" stroke="#d060e0" stroke-width="0.5"/><polygon points="373.57,308.05 374.42,310.59 376.61,310.82 374.95,312.61 375.45,315.29 373.57,313.86 371.69,315.29 372.19,312.61 370.53,310.82 372.72,310.59" fill="#e27cf2" stroke="#d060e0" stroke-width="0.5"/><polygon points="389.81,299.5 390.66,302.04 392.85,302.27 391.19,304.06 391.69,306.74 389.81,305.31 387.93,306.74 388.43,304.06 386.76,302.27 388.96,302.04" fill="#e27cf2" stroke="#d060e0" stroke-width="0.5"/><polygon points="434.49,296.19 435.34,298.72 437.53,298.95 435.87,300.75 436.37,303.43 434.49,302 432.61,303.43 433.11,300.75 431.44,298.95 433.64,298.72" fill="#e27cf2" stroke="#d060e0" stroke-width="0.5"/>
<path d="M295.46 458.58 L295.49 458.46 L295.56 458.35 L295.62 458.12 L295.68 457.76 L295.72 456.26 L295.77 452.24 L295.72 443.61 L295.99 440.24 L296.14 430.67 L296.73 425.93 L297.35 421.82 L297.98 418.48 L298.6 414.73 L299.89 408.76 L301.31 402.89 L308.23 380.27 L315.14 361.8 L322.68 349.14 L330.21 338.46 L337.73 329.54 L354.43 318.36 L370.38 309.47 L415.29 305.29" fill="none" stroke="#4daf4a" stroke-width="1.4"/>
<circle cx="295.46" cy="458.58" r="4.65" fill="url(#gs)"/><circle cx="295.49" cy="458.46" r="4.65" fill="url(#gs)"/><circle cx="295.56" cy="458.35" r="4.65" fill="url(#gs)"/><circle cx="295.62" cy="458.12" r="4.65" fill="url(#gs)"/><circle cx="295.68" cy="457.76" r="4.65" fill="url(#gs)"/><circle cx="295.72" cy="456.26" r="4.65" fill="url(#gs)"/><circle cx="295.77" cy="452.24" r="4.65" fill="url(#gs)"/><circle cx="295.72" cy="443.61" r="4.65" fill="url(#gs)"/><circle cx="295.99" cy="440.24" r="4.65" fill="url(#gs)"/><circle cx="296.14" cy="430.67" r="4.65" fill="url(#gs)"/><circle cx="296.73" cy="425.93" r="4.65" fill="url(#gs)"/><circle cx="297.35" cy="421.82" r="4.65" fill="url(#gs)"/><circle cx="297.98" cy="418.48" r="4.65" fill="url(#gs)"/><circle cx="298.6" cy="414.73" r="4.65" fill="url(#gs)"/><circle cx="299.89" cy="408.76" r="4.65" fill="url(#gs)"/><circle cx="301.31" cy="402.89" r="4.65" fill="url(#gs)"/><circle cx="308.23" cy="380.27" r="4.65" fill="url(#gs)"/><circle cx="315.14" cy="361.8" r="4.65" fill="url(#gs)"/><circle cx="322.68" cy="349.14" r="4.65" fill="url(#gs)"/><circle cx="330.21" cy="338.46" r="4.65" fill="url(#gs)"/><circle cx="337.73" cy="329.54" r="4.65" fill="url(#gs)"/><circle cx="354.43" cy="318.36" r="4.65" fill="url(#gs)"/><circle cx="370.38" cy="309.47" r="4.65" fill="url(#gs)"/><circle cx="415.29" cy="305.29" r="4.65" fill="url(#gs)"/>
<path d="M275.39 465.85 L275.43 465.73 L275.49 465.62 L275.55 465.38 L275.61 465.02 L275.63 463.49 L275.65 459.38 L275.53 450.55 L275.78 447.12 L275.84 437.34 L276.4 432.5 L276.98 428.3 L277.58 424.89 L278.17 421.05 L279.41 414.96 L281.17 408.43 L287.36 384.68 L294.59 366.52 L301.82 352.51 L309.67 340.99 L317.51 332.59 L334.01 320.77 L349.75 312.5 L394.68 308.61" fill="none" stroke="#377eb8" stroke-width="1.4"/>
<path d="M270.39 462.15h10v7.7h-10z" fill="#4fc0fa"/><path d="M275.39 462.05h5v7.6h-5z" fill="#3e96dd"/><path d="M270.39 461.55h10v1.3h-10z" fill="#4aa6e6"/><path d="M270.43 462.03h10v7.7h-10z" fill="#4fc0fa"/><path d="M275.43 461.93h5v7.6h-5z" fill="#3e96dd"/><path d="M270.43 461.43h10v1.3h-10z" fill="#4aa6e6"/><path d="M270.49 461.92h10v7.7h-10z" fill="#4fc0fa"/><path d="M275.49 461.82h5v7.6h-5z" fill="#3e96dd"/><path d="M270.49 461.32h10v1.3h-10z" fill="#4aa6e6"/><path d="M270.55 461.68h10v7.7h-10z" fill="#4fc0fa"/><path d="M275.55 461.58h5v7.6h-5z" fill="#3e96dd"/><path d="M270.55 461.08h10v1.3h-10z" fill="#4aa6e6"/><path d="M270.61 461.32h10v7.7h-10z" fill="#4fc0fa"/><path d="M275.61 461.22h5v7.6h-5z" fill="#3e96dd"/><path d="M270.61 460.72h10v1.3h-10z" fill="#4aa6e6"/><path d="M270.63 459.79h10v7.7h-10z" fill="#4fc0fa"/><path d="M275.63 459.69h5v7.6h-5z" fill="#3e96dd"/><path d="M270.63 459.19h10v1.3h-10z" fill="#4aa6e6"/><path d="M270.65 455.68h10v7.7h-10z" fill="#4fc0fa"/><path d="M275.65 455.58h5v7.6h-5z" fill="#3e96dd"/><path d="M270.65 455.08h10v1.3h-10z" fill="#4aa6e6"/><path d="M270.53 446.85h10v7.7h-10z" fill="#4fc0fa"/><path d="M275.53 446.75h5v7.6h-5z" fill="#3e96dd"/><path d="M270.53 446.25h10v1.3h-10z" fill="#4aa6e6"/><path d="M270.78 443.42h10v7.7h-10z" fill="#4fc0fa"/><path d="M275.78 443.32h5v7.6h-5z" fill="#3e96dd"/><path d="M270.78 442.82h10v1.3h-10z" fill="#4aa6e6"/><path d="M270.84 433.64h10v7.7h-10z" fill="#4fc0fa"/><path d="M275.84 433.54h5v7.6h-5z" fill="#3e96dd"/><path d="M270.84 433.04h10v1.3h-10z" fill="#4aa6e6"/><path d="M271.4 428.8h10v7.7h-10z" fill="#4fc0fa"/><path d="M276.4 428.7h5v7.6h-5z" fill="#3e96dd"/><path d="M271.4 428.2h10v1.3h-10z" fill="#4aa6e6"/><path d="M271.98 424.6h10v7.7h-10z" fill="#4fc0fa"/><path d="M276.98 424.5h5v7.6h-5z" fill="#3e96dd"/><path d="M271.98 424h10v1.3h-10z" fill="#4aa6e6"/><path d="M272.58 421.19h10v7.7h-10z" fill="#4fc0fa"/><path d="M277.58 421.09h5v7.6h-5z" fill="#3e96dd"/><path d="M272.58 420.59h10v1.3h-10z" fill="#4aa6e6"/><path d="M273.17 417.35h10v7.7h-10z" fill="#4fc0fa"/><path d="M278.17 417.25h5v7.6h-5z" fill="#3e96dd"/><path d="M273.17 416.75h10v1.3h-10z" fill="#4aa6e6"/><path d="M274.41 411.26h10v7.7h-10z" fill="#4fc0fa"/><path d="M279.41 411.16h5v7.6h-5z" fill="#3e96dd"/><path d="M274.41 410.66h10v1.3h-10z" fill="#4aa6e6"/><path d="M276.17 404.73h10v7.7h-10z" fill="#4fc0fa"/><path d="M281.17 404.63h5v7.6h-5z" fill="#3e96dd"/><path d="M276.17 404.13h10v1.3h-10z" fill="#4aa6e6"/><path d="M282.36 380.98h10v7.7h-10z" fill="#4fc0fa"/><path d="M287.36 380.88h5v7.6h-5z" fill="#3e96dd"/><path d="M282.36 380.38h10v1.3h-10z" fill="#4aa6e6"/><path d="M289.59 362.82h10v7.7h-10z" fill="#4fc0fa"/><path d="M294.59 362.72h5v7.6h-5z" fill="#3e96dd"/><path d="M289.59 362.22h10v1.3h-10z" fill="#4aa6e6"/><path d="M296.82 348.81h10v7.7h-10z" fill="#4fc0fa"/><path d="M301.82 348.71h5v7.6h-5z" fill="#3e96dd"/><path d="M296.82 348.21h10v1.3h-10z" fill="#4aa6e6"/><path d="M304.67 337.29h10v7.7h-10z" fill="#4fc0fa"/><path d="M309.67 337.19h5v7.6h-5z" fill="#3e96dd"/><path d="M304.67 336.69h10v1.3h-10z" fill="#4aa6e6"/><path d="M312.51 328.89h10v7.7h-10z" fill="#4fc0fa"/><path d="M317.51 328.79h5v7.6h-5z" fill="#3e96dd"/><path d="M312.51 328.29h10v1.3h-10z" fill="#4aa6e6"/><path d="M329.01 317.07h10v7.7h-10z" fill="#4fc0fa"/><path d="M334.01 316.97h5v7.6h-5z" fill="#3e96dd"/><path d="M329.01 316.47h10v1.3h-10z" fill="#4aa6e6"/><path d="M344.75 308.8h10v7.7h-10z" fill="#4fc0fa"/><path d="M349.75 308.7h5v7.6h-5z" fill="#3e96dd"/><path d="M344.75 308.2h10v1.3h-10z" fill="#4aa6e6"/><path d="M389.68 304.91h10v7.7h-10z" fill="#4fc0fa"/><path d="M394.68 304.81h5v7.6h-5z" fill="#3e96dd"/><path d="M389.68 304.31h10v1.3h-10z" fill="#4aa6e6"/>
<path d="M254.32 473.48 L254.35 473.36 L254.41 473.25 L254.47 473.01 L254.53 472.64 L254.54 471.07 L254.52 466.87 L254.32 457.85 L254.53 454.34 L254.51 444.34 L255.02 439.4 L255.56 435.11 L256.13 431.62 L256.69 427.71 L257.88 421.49 L259.62 413.44 L265.81 389.07 L272.62 370.18 L279.96 355.96 L287.39 344.24 L295.13 335.1 L311.12 323.18 L327.91 316.44 L373.18 311.47" fill="none" stroke="#e41a1c" stroke-width="1.4"/>
<circle cx="254.32" cy="473.48" r="5" fill="#e41a1c"/><circle cx="254.35" cy="473.36" r="5" fill="#e41a1c"/><circle cx="254.41" cy="473.25" r="5" fill="#e41a1c"/><circle cx="254.47" cy="473.01" r="5" fill="#e41a1c"/><circle cx="254.53" cy="472.64" r="5" fill="#e41a1c"/><circle cx="254.54" cy="471.07" r="5" fill="#e41a1c"/><circle cx="254.52" cy="466.87" r="5" fill="#e41a1c"/><circle cx="254.32" cy="457.85" r="5" fill="#e41a1c"/><circle cx="254.53" cy="454.34" r="5" fill="#e41a1c"/><circle cx="254.51" cy="444.34" r="5" fill="#e41a1c"/><circle cx="255.02" cy="439.4" r="5" fill="#e41a1c"/><circle cx="255.56" cy="435.11" r="5" fill="#e41a1c"/><circle cx="256.13" cy="431.62" r="5" fill="#e41a1c"/><circle cx="256.69" cy="427.71" r="5" fill="#e41a1c"/><circle cx="257.88" cy="421.49" r="5" fill="#e41a1c"/><circle cx="259.62" cy="413.44" r="5" fill="#e41a1c"/><circle cx="265.81" cy="389.07" r="5" fill="#e41a1c"/><circle cx="272.62" cy="370.18" r="5" fill="#e41a1c"/><circle cx="279.96" cy="355.96" r="5" fill="#e41a1c"/><circle cx="287.39" cy="344.24" r="5" fill="#e41a1c"/><circle cx="295.13" cy="335.1" r="5" fill="#e41a1c"/><circle cx="311.12" cy="323.18" r="5" fill="#e41a1c"/><circle cx="327.91" cy="316.44" r="5" fill="#e41a1c"/><circle cx="373.18" cy="311.47" r="5" fill="#e41a1c"/>
<text x="225.31" y="475.11" text-anchor="end" class="b" font-size="11">0</text><text x="224.45" y="456.46" text-anchor="end" class="b" font-size="11">2</text><text x="223.57" y="437.53" text-anchor="end" class="b" font-size="11">4</text><text x="222.68" y="418.34" text-anchor="end" class="b" font-size="11">6</text><text x="221.77" y="398.87" text-anchor="end" class="b" font-size="11">8</text><text x="220.85" y="379.11" text-anchor="end" class="b" font-size="11">10</text><text x="219.92" y="359.07" text-anchor="end" class="b" font-size="11">12</text><text x="218.97" y="338.73" text-anchor="end" class="b" font-size="11">14</text><text x="218.01" y="318.08" text-anchor="end" class="b" font-size="11">16</text><text x="217.03" y="297.13" text-anchor="end" class="b" font-size="11">18</text><text x="225.31" y="483.41" text-anchor="end" class="b" font-size="11">-2</text><text x="236.18" y="488.65" text-anchor="middle" class="b" font-size="11">0</text><text x="250.25" y="493.42" text-anchor="middle" class="b" font-size="11">2</text><text x="264.73" y="498.33" text-anchor="middle" class="b" font-size="11">4</text><text x="279.66" y="503.39" text-anchor="middle" class="b" font-size="11">6</text><text x="295.06" y="508.61" text-anchor="middle" class="b" font-size="11">8</text><text x="309.63" y="514" text-anchor="middle" class="b" font-size="11">10</text><text x="326.02" y="519.55" text-anchor="middle" class="b" font-size="11">12</text><text x="342.93" y="525.29" text-anchor="middle" class="b" font-size="11">14</text><text x="360.4" y="531.21" text-anchor="middle" class="b" font-size="11">16</text><text x="405.18" y="525.88" text-anchor="middle" class="b" font-size="11">2.39</text><text x="425.36" y="515.96" text-anchor="middle" class="b" font-size="11">2.43</text><text x="444.44" y="506.59" text-anchor="middle" class="b" font-size="11">2.47</text><text x="462.51" y="497.71" text-anchor="middle" class="b" font-size="11">2.42</text><text x="479.65" y="489.29" text-anchor="middle" class="b" font-size="11">2.44</text><text x="495.93" y="481.29" text-anchor="middle" class="b" font-size="11">2.45</text>
<text x="197.6" y="390" text-anchor="middle" class="b" font-size="11.1" transform="rotate(-90 197.6 390)">MFP (cm)</text>
<text x="216" y="528.4" class="b" font-size="13" textLength="80.7" lengthAdjust="spacingAndGlyphs">Energy (MeV)</text>
<text x="456.1" y="524" class="b" font-size="10.5" transform="rotate(-26 456.1 524)">Density (g.cm<tspan font-size="6.3" dy="-4">-3</tspan><tspan dy="4">)</tspan></text>
<rect x="230" y="302.5" width="24" height="22.5" fill="#000"/>
<rect x="227" y="299.5" width="24" height="22.5" fill="#fff" stroke="#b0b0b0" stroke-width="0.8"/>
<text x="239" y="317.6" text-anchor="middle" class="s" font-size="18" fill="#222">[c]</text>
<rect x="433.7" y="334.6" width="108.4" height="80.1" fill="#000"/>
<rect x="430.9" y="332.4" width="108.4" height="80.1" fill="#fff" stroke="#a8a8a8" stroke-width="0.8"/>
<line x1="432.3" y1="340.2" x2="458" y2="340.2" stroke="#e41a1c" stroke-width="1.3"/>
<circle cx="445.3" cy="340.2" r="5.83" fill="#e41a1c"/>
<text x="461.4" y="344.5" class="s" font-size="11.5" fill="#1a1a1a">CO</text>
<line x1="432.3" y1="353.36" x2="458" y2="353.36" stroke="#377eb8" stroke-width="1.3"/>
<rect x="439.47" y="347.85" width="11.66" height="11.02" fill="#377eb8"/>
<text x="461.4" y="357.66" class="s" font-size="11.5" fill="#1a1a1a">SF15</text>
<line x1="432.3" y1="366.52" x2="458" y2="366.52" stroke="#4daf4a" stroke-width="1.3"/>
<circle cx="445.3" cy="366.52" r="5.72" fill="url(#gl)"/>
<text x="461.4" y="370.82" class="s" font-size="11.5" fill="#1a1a1a">DK10</text>
<line x1="432.3" y1="379.68" x2="458" y2="379.68" stroke="#984ea3" stroke-width="1.3"/>
<polygon points="445.3,373.42 447.14,378.01 452.08,378.34 448.28,381.51 449.49,386.31 445.3,383.68 441.11,386.31 442.32,381.51 438.52,378.34 443.46,378.01" fill="#984ea3"/>
<text x="461.4" y="383.98" class="s" font-size="11.5" fill="#1a1a1a">SF15DK10</text>
<line x1="432.3" y1="392.84" x2="458" y2="392.84" stroke="#ff7f00" stroke-width="1.3"/>
<polygon points="445.3,385.93 452.1,398.02 438.5,398.02" fill="#ff7f00"/>
<text x="461.4" y="397.14" class="s" font-size="11.5" fill="#1a1a1a">SF15LS10</text>
<line x1="432.3" y1="406" x2="458" y2="406" stroke="#ffff33" stroke-width="1.3"/>
<circle cx="445.3" cy="406" r="5.83" fill="#ffff33"/>
<text x="461.4" y="410.3" class="s" font-size="11.5" fill="#1a1a1a">SF15LS10DK10</text>
</svg></body></html>
